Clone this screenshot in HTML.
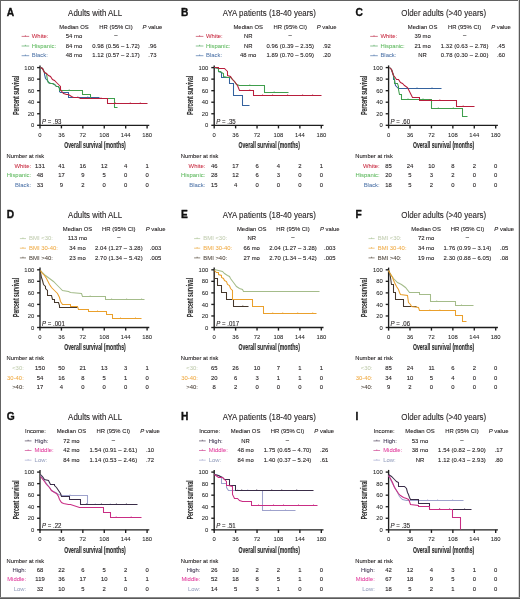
<!DOCTYPE html>
<html><head><meta charset="utf-8"><title>Survival curves</title>
<style>
html,body{margin:0;padding:0;background:#fff;}
body{width:520px;height:599px;overflow:hidden;position:relative;}
svg{display:block;font-family:"Liberation Sans", sans-serif;filter:blur(0.3px);}
text{stroke-linejoin:round;}
</style></head>
<body>
<svg width="520" height="599" viewBox="0 0 520 599">
<rect x="0" y="0" width="520" height="599" fill="#fff"/>
<g transform="translate(0,0)">
<text x="6.80" y="15.80" font-size="10.2" text-anchor="start" fill="#111" font-weight="bold" stroke="#111" stroke-width="0.35">A</text>
<text transform="translate(95.10 15.80) scale(0.9516 1)" font-size="8.302" text-anchor="middle" fill="#231f20" stroke="#231f20" stroke-width="0.1" >Adults with ALL</text>
<text transform="translate(74.00 28.60) scale(0.9516 1)" font-size="6.2" text-anchor="middle" fill="#231f20" stroke="#231f20" stroke-width="0.1" >Median OS</text>
<text transform="translate(116.00 28.60) scale(0.9516 1)" font-size="6.2" text-anchor="middle" fill="#231f20" stroke="#231f20" stroke-width="0.1" >HR (95% CI)</text>
<text transform="translate(152.40 28.60) scale(0.9516 1)" font-size="6.2" text-anchor="middle" fill="#231f20" stroke="#231f20" stroke-width="0.1" ><tspan font-style="italic">P</tspan> value</text>
<line x1="21.6" y1="36.40" x2="29.2" y2="36.40" stroke="#b81e3c" stroke-width="0.75" stroke-opacity="0.8"/>
<line x1="25.40" y1="35.20" x2="25.40" y2="36.40" stroke="#b81e3c" stroke-width="0.7" stroke-opacity="0.8"/>
<text transform="translate(31.80 38.10) scale(0.9516 1)" font-size="6.2" text-anchor="start" fill="#c8283f" stroke="#c8283f" stroke-width="0.05" >White:</text>
<text transform="translate(74.00 38.10) scale(0.9516 1)" font-size="6.2" text-anchor="middle" fill="#231f20" stroke="#231f20" stroke-width="0.1" >54 mo</text>
<text transform="translate(116.00 37.20) scale(0.9516 1)" font-size="6.2" text-anchor="middle" fill="#231f20" stroke="#231f20" stroke-width="0.1" >–</text>
<line x1="21.6" y1="46.00" x2="29.2" y2="46.00" stroke="#3f9e4c" stroke-width="0.75" stroke-opacity="0.8"/>
<line x1="25.40" y1="44.80" x2="25.40" y2="46.00" stroke="#3f9e4c" stroke-width="0.7" stroke-opacity="0.8"/>
<text transform="translate(31.80 47.70) scale(0.9516 1)" font-size="6.2" text-anchor="start" fill="#5cb85c" stroke="#5cb85c" stroke-width="0.05" >Hispanic:</text>
<text transform="translate(74.00 47.70) scale(0.9516 1)" font-size="6.2" text-anchor="middle" fill="#231f20" stroke="#231f20" stroke-width="0.1" >84 mo</text>
<text transform="translate(116.00 47.70) scale(0.9516 1)" font-size="6.2" text-anchor="middle" fill="#231f20" stroke="#231f20" stroke-width="0.1" textLength="50.02" lengthAdjust="spacing" >0.98 (0.56 – 1.72)</text>
<text transform="translate(152.40 47.70) scale(0.9516 1)" font-size="6.2" text-anchor="middle" fill="#231f20" stroke="#231f20" stroke-width="0.1" >.96</text>
<line x1="21.6" y1="55.70" x2="29.2" y2="55.70" stroke="#34629e" stroke-width="0.75" stroke-opacity="0.8"/>
<line x1="25.40" y1="54.50" x2="25.40" y2="55.70" stroke="#34629e" stroke-width="0.7" stroke-opacity="0.8"/>
<text transform="translate(31.80 57.40) scale(0.9516 1)" font-size="6.2" text-anchor="start" fill="#4f74a8" stroke="#4f74a8" stroke-width="0.05" >Black:</text>
<text transform="translate(74.00 57.40) scale(0.9516 1)" font-size="6.2" text-anchor="middle" fill="#231f20" stroke="#231f20" stroke-width="0.1" >48 mo</text>
<text transform="translate(116.00 57.40) scale(0.9516 1)" font-size="6.2" text-anchor="middle" fill="#231f20" stroke="#231f20" stroke-width="0.1" textLength="50.02" lengthAdjust="spacing" >1.12 (0.57 – 2.17)</text>
<text transform="translate(152.40 57.40) scale(0.9516 1)" font-size="6.2" text-anchor="middle" fill="#231f20" stroke="#231f20" stroke-width="0.1" >.73</text>
<g stroke="#1e1e1e" stroke-width="1.35" fill="none">
<line x1="40.0" y1="65.39999999999999" x2="40.0" y2="125.89999999999999"/>
<line x1="39.45" y1="125.3" x2="149.29999999999998" y2="125.3"/>
<line x1="37.1" y1="125.30" x2="40.0" y2="125.30"/>
<line x1="40.00" y1="125.3" x2="40.00" y2="128.4"/>
<line x1="37.1" y1="113.76" x2="40.0" y2="113.76"/>
<line x1="61.42" y1="125.3" x2="61.42" y2="128.4"/>
<line x1="37.1" y1="102.22" x2="40.0" y2="102.22"/>
<line x1="82.84" y1="125.3" x2="82.84" y2="128.4"/>
<line x1="37.1" y1="90.68" x2="40.0" y2="90.68"/>
<line x1="104.26" y1="125.3" x2="104.26" y2="128.4"/>
<line x1="37.1" y1="79.14" x2="40.0" y2="79.14"/>
<line x1="125.68" y1="125.3" x2="125.68" y2="128.4"/>
<line x1="37.1" y1="67.60" x2="40.0" y2="67.60"/>
<line x1="147.10" y1="125.3" x2="147.10" y2="128.4"/>
</g>
<text transform="translate(34.20 127.40) scale(0.9516 1)" font-size="6.2" text-anchor="end" fill="#262626" stroke="#262626" stroke-width="0.05" >0</text>
<text transform="translate(40.00 136.70) scale(0.9516 1)" font-size="6.2" text-anchor="middle" fill="#262626" stroke="#262626" stroke-width="0.05" >0</text>
<text transform="translate(34.20 115.86) scale(0.9516 1)" font-size="6.2" text-anchor="end" fill="#262626" stroke="#262626" stroke-width="0.05" >20</text>
<text transform="translate(61.42 136.70) scale(0.9516 1)" font-size="6.2" text-anchor="middle" fill="#262626" stroke="#262626" stroke-width="0.05" >36</text>
<text transform="translate(34.20 104.32) scale(0.9516 1)" font-size="6.2" text-anchor="end" fill="#262626" stroke="#262626" stroke-width="0.05" >40</text>
<text transform="translate(82.84 136.70) scale(0.9516 1)" font-size="6.2" text-anchor="middle" fill="#262626" stroke="#262626" stroke-width="0.05" >72</text>
<text transform="translate(34.20 92.78) scale(0.9516 1)" font-size="6.2" text-anchor="end" fill="#262626" stroke="#262626" stroke-width="0.05" >60</text>
<text transform="translate(104.26 136.70) scale(0.9516 1)" font-size="6.2" text-anchor="middle" fill="#262626" stroke="#262626" stroke-width="0.05" >108</text>
<text transform="translate(34.20 81.24) scale(0.9516 1)" font-size="6.2" text-anchor="end" fill="#262626" stroke="#262626" stroke-width="0.05" >80</text>
<text transform="translate(125.68 136.70) scale(0.9516 1)" font-size="6.2" text-anchor="middle" fill="#262626" stroke="#262626" stroke-width="0.05" >144</text>
<text transform="translate(34.20 69.70) scale(0.9516 1)" font-size="6.2" text-anchor="end" fill="#262626" stroke="#262626" stroke-width="0.05" >100</text>
<text transform="translate(147.10 136.70) scale(0.9516 1)" font-size="6.2" text-anchor="middle" fill="#262626" stroke="#262626" stroke-width="0.05" >180</text>
<text transform="translate(18.8,95.25) rotate(-90)" font-size="8.4" font-weight="bold" text-anchor="middle" fill="#2e2e2e" stroke="#2e2e2e" stroke-width="0.15" textLength="39" lengthAdjust="spacingAndGlyphs">Percent survival</text>
<text x="95" y="148.0" font-size="8.4" font-weight="bold" text-anchor="middle" fill="#2e2e2e" stroke="#2e2e2e" stroke-width="0.15" textLength="61.4" lengthAdjust="spacingAndGlyphs">Overall survival (months)</text>
<text transform="translate(42.00 123.80) scale(0.9516 1)" font-size="6.41" text-anchor="start" fill="#231f20" stroke="#231f20" stroke-width="0.1" ><tspan font-style="italic">P</tspan> = .93</text>
<text transform="translate(6.60 158.20) scale(0.9516 1)" font-size="6.095" text-anchor="start" fill="#231f20" stroke="#231f20" stroke-width="0.1" >Number at risk</text>
<text transform="translate(31.10 167.80) scale(0.9516 1)" font-size="6.2" text-anchor="end" fill="#c8283f" stroke="#c8283f" stroke-width="0.05" >White:</text>
<text transform="translate(40.00 167.80) scale(0.9516 1)" font-size="6.2" text-anchor="middle" fill="#231f20" stroke="#231f20" stroke-width="0.1" >131</text>
<text transform="translate(61.42 167.80) scale(0.9516 1)" font-size="6.2" text-anchor="middle" fill="#231f20" stroke="#231f20" stroke-width="0.1" >41</text>
<text transform="translate(82.84 167.80) scale(0.9516 1)" font-size="6.2" text-anchor="middle" fill="#231f20" stroke="#231f20" stroke-width="0.1" >16</text>
<text transform="translate(104.26 167.80) scale(0.9516 1)" font-size="6.2" text-anchor="middle" fill="#231f20" stroke="#231f20" stroke-width="0.1" >12</text>
<text transform="translate(125.68 167.80) scale(0.9516 1)" font-size="6.2" text-anchor="middle" fill="#231f20" stroke="#231f20" stroke-width="0.1" >4</text>
<text transform="translate(147.10 167.80) scale(0.9516 1)" font-size="6.2" text-anchor="middle" fill="#231f20" stroke="#231f20" stroke-width="0.1" >1</text>
<text transform="translate(31.10 177.40) scale(0.9516 1)" font-size="6.2" text-anchor="end" fill="#5cb85c" stroke="#5cb85c" stroke-width="0.05" >Hispanic:</text>
<text transform="translate(40.00 177.40) scale(0.9516 1)" font-size="6.2" text-anchor="middle" fill="#231f20" stroke="#231f20" stroke-width="0.1" >48</text>
<text transform="translate(61.42 177.40) scale(0.9516 1)" font-size="6.2" text-anchor="middle" fill="#231f20" stroke="#231f20" stroke-width="0.1" >17</text>
<text transform="translate(82.84 177.40) scale(0.9516 1)" font-size="6.2" text-anchor="middle" fill="#231f20" stroke="#231f20" stroke-width="0.1" >9</text>
<text transform="translate(104.26 177.40) scale(0.9516 1)" font-size="6.2" text-anchor="middle" fill="#231f20" stroke="#231f20" stroke-width="0.1" >5</text>
<text transform="translate(125.68 177.40) scale(0.9516 1)" font-size="6.2" text-anchor="middle" fill="#231f20" stroke="#231f20" stroke-width="0.1" >0</text>
<text transform="translate(147.10 177.40) scale(0.9516 1)" font-size="6.2" text-anchor="middle" fill="#231f20" stroke="#231f20" stroke-width="0.1" >0</text>
<text transform="translate(31.10 186.90) scale(0.9516 1)" font-size="6.2" text-anchor="end" fill="#4f74a8" stroke="#4f74a8" stroke-width="0.05" >Black:</text>
<text transform="translate(40.00 186.90) scale(0.9516 1)" font-size="6.2" text-anchor="middle" fill="#231f20" stroke="#231f20" stroke-width="0.1" >33</text>
<text transform="translate(61.42 186.90) scale(0.9516 1)" font-size="6.2" text-anchor="middle" fill="#231f20" stroke="#231f20" stroke-width="0.1" >9</text>
<text transform="translate(82.84 186.90) scale(0.9516 1)" font-size="6.2" text-anchor="middle" fill="#231f20" stroke="#231f20" stroke-width="0.1" >2</text>
<text transform="translate(104.26 186.90) scale(0.9516 1)" font-size="6.2" text-anchor="middle" fill="#231f20" stroke="#231f20" stroke-width="0.1" >0</text>
<text transform="translate(125.68 186.90) scale(0.9516 1)" font-size="6.2" text-anchor="middle" fill="#231f20" stroke="#231f20" stroke-width="0.1" >0</text>
<text transform="translate(147.10 186.90) scale(0.9516 1)" font-size="6.2" text-anchor="middle" fill="#231f20" stroke="#231f20" stroke-width="0.1" >0</text>
</g>
<polyline points="40.50,67.50 42.50,68.50 44.50,72.50 44.50,74.50 45.50,78.50 47.50,80.50 48.50,82.50 50.50,83.50 52.50,83.50 54.50,84.50 56.50,86.50 58.50,86.50 59.50,88.50 59.50,91.50 60.50,92.50 68.50,92.50 68.50,97.50 99.50,97.50" fill="none" stroke="#34629e" stroke-width="1.05" stroke-linejoin="miter"/>
<path d="M77.8,96.1v1.4M87.8,96.1v1.4" stroke="#34629e" stroke-width="0.7" fill="none" opacity="0.7"/>
<polyline points="40.50,67.50 42.50,68.50 44.50,72.50 46.50,73.50 47.50,80.50 48.50,82.50 50.50,83.50 52.50,83.50 54.50,84.50 56.50,86.50 58.50,86.50 59.50,88.50 59.50,90.50 82.50,90.50 82.50,94.50 90.50,94.50 90.50,98.50 114.50,98.50 114.50,107.50 117.50,107.50" fill="none" stroke="#3f9e4c" stroke-width="1.05" stroke-linejoin="miter"/>
<path d="M69.2,89.1v1.4M96.0,97.1v1.4" stroke="#3f9e4c" stroke-width="0.7" fill="none" opacity="0.7"/>
<polyline points="40.50,67.50 42.50,68.50 44.50,72.50 46.50,73.50 48.50,75.50 50.50,76.50 52.50,79.50 54.50,80.50 56.50,82.50 57.50,83.50 59.50,85.50 60.50,86.50 60.50,89.50 62.50,92.50 63.50,93.50 66.50,94.50 68.50,94.50 71.50,96.50 73.50,97.50 78.50,97.50 80.50,98.50 107.50,98.50 107.50,103.50 147.50,103.50" fill="none" stroke="#b81e3c" stroke-width="1.05" stroke-linejoin="miter"/>
<path d="M86.0,97.1v1.4M101.0,97.1v1.4M115.3,102.1v1.4M130.3,102.1v1.4M140.3,102.1v1.4" stroke="#b81e3c" stroke-width="0.7" fill="none" opacity="0.7"/>
<g transform="translate(174.2,0)">
<text x="6.80" y="15.80" font-size="10.2" text-anchor="start" fill="#111" font-weight="bold" stroke="#111" stroke-width="0.35">B</text>
<text transform="translate(95.10 15.80) scale(0.9516 1)" font-size="8.302" text-anchor="middle" fill="#231f20" stroke="#231f20" stroke-width="0.1" >AYA patients (18-40 years)</text>
<text transform="translate(74.00 28.60) scale(0.9516 1)" font-size="6.2" text-anchor="middle" fill="#231f20" stroke="#231f20" stroke-width="0.1" >Median OS</text>
<text transform="translate(116.00 28.60) scale(0.9516 1)" font-size="6.2" text-anchor="middle" fill="#231f20" stroke="#231f20" stroke-width="0.1" >HR (95% CI)</text>
<text transform="translate(152.40 28.60) scale(0.9516 1)" font-size="6.2" text-anchor="middle" fill="#231f20" stroke="#231f20" stroke-width="0.1" ><tspan font-style="italic">P</tspan> value</text>
<line x1="21.6" y1="36.40" x2="29.2" y2="36.40" stroke="#b81e3c" stroke-width="0.75" stroke-opacity="0.8"/>
<line x1="25.40" y1="35.20" x2="25.40" y2="36.40" stroke="#b81e3c" stroke-width="0.7" stroke-opacity="0.8"/>
<text transform="translate(31.80 38.10) scale(0.9516 1)" font-size="6.2" text-anchor="start" fill="#c8283f" stroke="#c8283f" stroke-width="0.05" >White:</text>
<text transform="translate(74.00 38.10) scale(0.9516 1)" font-size="6.2" text-anchor="middle" fill="#231f20" stroke="#231f20" stroke-width="0.1" >NR</text>
<text transform="translate(116.00 37.20) scale(0.9516 1)" font-size="6.2" text-anchor="middle" fill="#231f20" stroke="#231f20" stroke-width="0.1" >–</text>
<line x1="21.6" y1="46.00" x2="29.2" y2="46.00" stroke="#3f9e4c" stroke-width="0.75" stroke-opacity="0.8"/>
<line x1="25.40" y1="44.80" x2="25.40" y2="46.00" stroke="#3f9e4c" stroke-width="0.7" stroke-opacity="0.8"/>
<text transform="translate(31.80 47.70) scale(0.9516 1)" font-size="6.2" text-anchor="start" fill="#5cb85c" stroke="#5cb85c" stroke-width="0.05" >Hispanic:</text>
<text transform="translate(74.00 47.70) scale(0.9516 1)" font-size="6.2" text-anchor="middle" fill="#231f20" stroke="#231f20" stroke-width="0.1" >NR</text>
<text transform="translate(116.00 47.70) scale(0.9516 1)" font-size="6.2" text-anchor="middle" fill="#231f20" stroke="#231f20" stroke-width="0.1" textLength="50.02" lengthAdjust="spacing" >0.96 (0.39 – 2.35)</text>
<text transform="translate(152.40 47.70) scale(0.9516 1)" font-size="6.2" text-anchor="middle" fill="#231f20" stroke="#231f20" stroke-width="0.1" >.92</text>
<line x1="21.6" y1="55.70" x2="29.2" y2="55.70" stroke="#34629e" stroke-width="0.75" stroke-opacity="0.8"/>
<line x1="25.40" y1="54.50" x2="25.40" y2="55.70" stroke="#34629e" stroke-width="0.7" stroke-opacity="0.8"/>
<text transform="translate(31.80 57.40) scale(0.9516 1)" font-size="6.2" text-anchor="start" fill="#4f74a8" stroke="#4f74a8" stroke-width="0.05" >Black:</text>
<text transform="translate(74.00 57.40) scale(0.9516 1)" font-size="6.2" text-anchor="middle" fill="#231f20" stroke="#231f20" stroke-width="0.1" >48 mo</text>
<text transform="translate(116.00 57.40) scale(0.9516 1)" font-size="6.2" text-anchor="middle" fill="#231f20" stroke="#231f20" stroke-width="0.1" textLength="50.02" lengthAdjust="spacing" >1.89 (0.70 – 5.09)</text>
<text transform="translate(152.40 57.40) scale(0.9516 1)" font-size="6.2" text-anchor="middle" fill="#231f20" stroke="#231f20" stroke-width="0.1" >.20</text>
<g stroke="#1e1e1e" stroke-width="1.35" fill="none">
<line x1="40.0" y1="65.39999999999999" x2="40.0" y2="125.89999999999999"/>
<line x1="39.45" y1="125.3" x2="149.29999999999998" y2="125.3"/>
<line x1="37.1" y1="125.30" x2="40.0" y2="125.30"/>
<line x1="40.00" y1="125.3" x2="40.00" y2="128.4"/>
<line x1="37.1" y1="113.76" x2="40.0" y2="113.76"/>
<line x1="61.42" y1="125.3" x2="61.42" y2="128.4"/>
<line x1="37.1" y1="102.22" x2="40.0" y2="102.22"/>
<line x1="82.84" y1="125.3" x2="82.84" y2="128.4"/>
<line x1="37.1" y1="90.68" x2="40.0" y2="90.68"/>
<line x1="104.26" y1="125.3" x2="104.26" y2="128.4"/>
<line x1="37.1" y1="79.14" x2="40.0" y2="79.14"/>
<line x1="125.68" y1="125.3" x2="125.68" y2="128.4"/>
<line x1="37.1" y1="67.60" x2="40.0" y2="67.60"/>
<line x1="147.10" y1="125.3" x2="147.10" y2="128.4"/>
</g>
<text transform="translate(34.20 127.40) scale(0.9516 1)" font-size="6.2" text-anchor="end" fill="#262626" stroke="#262626" stroke-width="0.05" >0</text>
<text transform="translate(40.00 136.70) scale(0.9516 1)" font-size="6.2" text-anchor="middle" fill="#262626" stroke="#262626" stroke-width="0.05" >0</text>
<text transform="translate(34.20 115.86) scale(0.9516 1)" font-size="6.2" text-anchor="end" fill="#262626" stroke="#262626" stroke-width="0.05" >20</text>
<text transform="translate(61.42 136.70) scale(0.9516 1)" font-size="6.2" text-anchor="middle" fill="#262626" stroke="#262626" stroke-width="0.05" >36</text>
<text transform="translate(34.20 104.32) scale(0.9516 1)" font-size="6.2" text-anchor="end" fill="#262626" stroke="#262626" stroke-width="0.05" >40</text>
<text transform="translate(82.84 136.70) scale(0.9516 1)" font-size="6.2" text-anchor="middle" fill="#262626" stroke="#262626" stroke-width="0.05" >72</text>
<text transform="translate(34.20 92.78) scale(0.9516 1)" font-size="6.2" text-anchor="end" fill="#262626" stroke="#262626" stroke-width="0.05" >60</text>
<text transform="translate(104.26 136.70) scale(0.9516 1)" font-size="6.2" text-anchor="middle" fill="#262626" stroke="#262626" stroke-width="0.05" >108</text>
<text transform="translate(34.20 81.24) scale(0.9516 1)" font-size="6.2" text-anchor="end" fill="#262626" stroke="#262626" stroke-width="0.05" >80</text>
<text transform="translate(125.68 136.70) scale(0.9516 1)" font-size="6.2" text-anchor="middle" fill="#262626" stroke="#262626" stroke-width="0.05" >144</text>
<text transform="translate(34.20 69.70) scale(0.9516 1)" font-size="6.2" text-anchor="end" fill="#262626" stroke="#262626" stroke-width="0.05" >100</text>
<text transform="translate(147.10 136.70) scale(0.9516 1)" font-size="6.2" text-anchor="middle" fill="#262626" stroke="#262626" stroke-width="0.05" >180</text>
<text transform="translate(18.8,95.25) rotate(-90)" font-size="8.4" font-weight="bold" text-anchor="middle" fill="#2e2e2e" stroke="#2e2e2e" stroke-width="0.15" textLength="39" lengthAdjust="spacingAndGlyphs">Percent survival</text>
<text x="95" y="148.0" font-size="8.4" font-weight="bold" text-anchor="middle" fill="#2e2e2e" stroke="#2e2e2e" stroke-width="0.15" textLength="61.4" lengthAdjust="spacingAndGlyphs">Overall survival (months)</text>
<text transform="translate(42.00 123.80) scale(0.9516 1)" font-size="6.41" text-anchor="start" fill="#231f20" stroke="#231f20" stroke-width="0.1" ><tspan font-style="italic">P</tspan> = .35</text>
<text transform="translate(6.60 158.20) scale(0.9516 1)" font-size="6.095" text-anchor="start" fill="#231f20" stroke="#231f20" stroke-width="0.1" >Number at risk</text>
<text transform="translate(31.10 167.80) scale(0.9516 1)" font-size="6.2" text-anchor="end" fill="#c8283f" stroke="#c8283f" stroke-width="0.05" >White:</text>
<text transform="translate(40.00 167.80) scale(0.9516 1)" font-size="6.2" text-anchor="middle" fill="#231f20" stroke="#231f20" stroke-width="0.1" >46</text>
<text transform="translate(61.42 167.80) scale(0.9516 1)" font-size="6.2" text-anchor="middle" fill="#231f20" stroke="#231f20" stroke-width="0.1" >17</text>
<text transform="translate(82.84 167.80) scale(0.9516 1)" font-size="6.2" text-anchor="middle" fill="#231f20" stroke="#231f20" stroke-width="0.1" >6</text>
<text transform="translate(104.26 167.80) scale(0.9516 1)" font-size="6.2" text-anchor="middle" fill="#231f20" stroke="#231f20" stroke-width="0.1" >4</text>
<text transform="translate(125.68 167.80) scale(0.9516 1)" font-size="6.2" text-anchor="middle" fill="#231f20" stroke="#231f20" stroke-width="0.1" >2</text>
<text transform="translate(147.10 167.80) scale(0.9516 1)" font-size="6.2" text-anchor="middle" fill="#231f20" stroke="#231f20" stroke-width="0.1" >1</text>
<text transform="translate(31.10 177.40) scale(0.9516 1)" font-size="6.2" text-anchor="end" fill="#5cb85c" stroke="#5cb85c" stroke-width="0.05" >Hispanic:</text>
<text transform="translate(40.00 177.40) scale(0.9516 1)" font-size="6.2" text-anchor="middle" fill="#231f20" stroke="#231f20" stroke-width="0.1" >28</text>
<text transform="translate(61.42 177.40) scale(0.9516 1)" font-size="6.2" text-anchor="middle" fill="#231f20" stroke="#231f20" stroke-width="0.1" >12</text>
<text transform="translate(82.84 177.40) scale(0.9516 1)" font-size="6.2" text-anchor="middle" fill="#231f20" stroke="#231f20" stroke-width="0.1" >6</text>
<text transform="translate(104.26 177.40) scale(0.9516 1)" font-size="6.2" text-anchor="middle" fill="#231f20" stroke="#231f20" stroke-width="0.1" >3</text>
<text transform="translate(125.68 177.40) scale(0.9516 1)" font-size="6.2" text-anchor="middle" fill="#231f20" stroke="#231f20" stroke-width="0.1" >0</text>
<text transform="translate(147.10 177.40) scale(0.9516 1)" font-size="6.2" text-anchor="middle" fill="#231f20" stroke="#231f20" stroke-width="0.1" >0</text>
<text transform="translate(31.10 186.90) scale(0.9516 1)" font-size="6.2" text-anchor="end" fill="#4f74a8" stroke="#4f74a8" stroke-width="0.05" >Black:</text>
<text transform="translate(40.00 186.90) scale(0.9516 1)" font-size="6.2" text-anchor="middle" fill="#231f20" stroke="#231f20" stroke-width="0.1" >15</text>
<text transform="translate(61.42 186.90) scale(0.9516 1)" font-size="6.2" text-anchor="middle" fill="#231f20" stroke="#231f20" stroke-width="0.1" >4</text>
<text transform="translate(82.84 186.90) scale(0.9516 1)" font-size="6.2" text-anchor="middle" fill="#231f20" stroke="#231f20" stroke-width="0.1" >0</text>
<text transform="translate(104.26 186.90) scale(0.9516 1)" font-size="6.2" text-anchor="middle" fill="#231f20" stroke="#231f20" stroke-width="0.1" >0</text>
<text transform="translate(125.68 186.90) scale(0.9516 1)" font-size="6.2" text-anchor="middle" fill="#231f20" stroke="#231f20" stroke-width="0.1" >0</text>
<text transform="translate(147.10 186.90) scale(0.9516 1)" font-size="6.2" text-anchor="middle" fill="#231f20" stroke="#231f20" stroke-width="0.1" >0</text>
</g>
<polyline points="214.50,67.50 218.50,68.50 218.50,71.50 221.50,72.50 221.50,77.50 229.50,77.50 229.50,83.50 233.50,83.50 233.50,95.50 242.50,95.50 242.50,105.50 249.50,105.50" fill="none" stroke="#34629e" stroke-width="1.05" stroke-linejoin="miter"/>
<polyline points="214.50,67.50 218.50,68.50 218.50,71.50 220.50,71.50 221.50,72.50 223.50,73.50 223.50,76.50 227.50,77.50 230.50,77.50 232.50,79.50 234.50,81.50 236.50,84.50 239.50,85.50 264.50,85.50 264.50,92.50 288.50,92.50" fill="none" stroke="#3f9e4c" stroke-width="1.05" stroke-linejoin="miter"/>
<path d="M249.8,84.1v1.4M274.2,91.1v1.4" stroke="#3f9e4c" stroke-width="0.7" fill="none" opacity="0.7"/>
<polyline points="214.50,67.50 218.50,67.50 218.50,68.50 224.50,68.50 226.50,70.50 227.50,71.50 227.50,75.50 230.50,76.50 232.50,79.50 234.50,81.50 237.50,85.50 239.50,90.50 253.50,90.50 253.50,95.50 321.50,95.50" fill="none" stroke="#b81e3c" stroke-width="1.05" stroke-linejoin="miter"/>
<path d="M249.8,89.1v1.4M262.6,94.1v1.4M272.6,94.1v1.4M287.6,94.1v1.4M302.6,94.1v1.4M312.6,94.1v1.4" stroke="#b81e3c" stroke-width="0.7" fill="none" opacity="0.7"/>
<g transform="translate(348.6,0)">
<text x="6.80" y="15.80" font-size="10.2" text-anchor="start" fill="#111" font-weight="bold" stroke="#111" stroke-width="0.35">C</text>
<text transform="translate(95.10 15.80) scale(0.9516 1)" font-size="8.302" text-anchor="middle" fill="#231f20" stroke="#231f20" stroke-width="0.1" >Older adults (&gt;40 years)</text>
<text transform="translate(74.00 28.60) scale(0.9516 1)" font-size="6.2" text-anchor="middle" fill="#231f20" stroke="#231f20" stroke-width="0.1" >Median OS</text>
<text transform="translate(116.00 28.60) scale(0.9516 1)" font-size="6.2" text-anchor="middle" fill="#231f20" stroke="#231f20" stroke-width="0.1" >HR (95% CI)</text>
<text transform="translate(152.40 28.60) scale(0.9516 1)" font-size="6.2" text-anchor="middle" fill="#231f20" stroke="#231f20" stroke-width="0.1" ><tspan font-style="italic">P</tspan> value</text>
<line x1="21.6" y1="36.40" x2="29.2" y2="36.40" stroke="#b81e3c" stroke-width="0.75" stroke-opacity="0.8"/>
<line x1="25.40" y1="35.20" x2="25.40" y2="36.40" stroke="#b81e3c" stroke-width="0.7" stroke-opacity="0.8"/>
<text transform="translate(31.80 38.10) scale(0.9516 1)" font-size="6.2" text-anchor="start" fill="#c8283f" stroke="#c8283f" stroke-width="0.05" >White:</text>
<text transform="translate(74.00 38.10) scale(0.9516 1)" font-size="6.2" text-anchor="middle" fill="#231f20" stroke="#231f20" stroke-width="0.1" >39 mo</text>
<text transform="translate(116.00 37.20) scale(0.9516 1)" font-size="6.2" text-anchor="middle" fill="#231f20" stroke="#231f20" stroke-width="0.1" >–</text>
<line x1="21.6" y1="46.00" x2="29.2" y2="46.00" stroke="#3f9e4c" stroke-width="0.75" stroke-opacity="0.8"/>
<line x1="25.40" y1="44.80" x2="25.40" y2="46.00" stroke="#3f9e4c" stroke-width="0.7" stroke-opacity="0.8"/>
<text transform="translate(31.80 47.70) scale(0.9516 1)" font-size="6.2" text-anchor="start" fill="#5cb85c" stroke="#5cb85c" stroke-width="0.05" >Hispanic:</text>
<text transform="translate(74.00 47.70) scale(0.9516 1)" font-size="6.2" text-anchor="middle" fill="#231f20" stroke="#231f20" stroke-width="0.1" >21 mo</text>
<text transform="translate(116.00 47.70) scale(0.9516 1)" font-size="6.2" text-anchor="middle" fill="#231f20" stroke="#231f20" stroke-width="0.1" textLength="50.02" lengthAdjust="spacing" >1.32 (0.63 – 2.78)</text>
<text transform="translate(152.40 47.70) scale(0.9516 1)" font-size="6.2" text-anchor="middle" fill="#231f20" stroke="#231f20" stroke-width="0.1" >.45</text>
<line x1="21.6" y1="55.70" x2="29.2" y2="55.70" stroke="#34629e" stroke-width="0.75" stroke-opacity="0.8"/>
<line x1="25.40" y1="54.50" x2="25.40" y2="55.70" stroke="#34629e" stroke-width="0.7" stroke-opacity="0.8"/>
<text transform="translate(31.80 57.40) scale(0.9516 1)" font-size="6.2" text-anchor="start" fill="#4f74a8" stroke="#4f74a8" stroke-width="0.05" >Black:</text>
<text transform="translate(74.00 57.40) scale(0.9516 1)" font-size="6.2" text-anchor="middle" fill="#231f20" stroke="#231f20" stroke-width="0.1" >NR</text>
<text transform="translate(116.00 57.40) scale(0.9516 1)" font-size="6.2" text-anchor="middle" fill="#231f20" stroke="#231f20" stroke-width="0.1" textLength="50.02" lengthAdjust="spacing" >0.78 (0.30 – 2.00)</text>
<text transform="translate(152.40 57.40) scale(0.9516 1)" font-size="6.2" text-anchor="middle" fill="#231f20" stroke="#231f20" stroke-width="0.1" >.60</text>
<g stroke="#1e1e1e" stroke-width="1.35" fill="none">
<line x1="40.0" y1="65.39999999999999" x2="40.0" y2="125.89999999999999"/>
<line x1="39.45" y1="125.3" x2="149.29999999999998" y2="125.3"/>
<line x1="37.1" y1="125.30" x2="40.0" y2="125.30"/>
<line x1="40.00" y1="125.3" x2="40.00" y2="128.4"/>
<line x1="37.1" y1="113.76" x2="40.0" y2="113.76"/>
<line x1="61.42" y1="125.3" x2="61.42" y2="128.4"/>
<line x1="37.1" y1="102.22" x2="40.0" y2="102.22"/>
<line x1="82.84" y1="125.3" x2="82.84" y2="128.4"/>
<line x1="37.1" y1="90.68" x2="40.0" y2="90.68"/>
<line x1="104.26" y1="125.3" x2="104.26" y2="128.4"/>
<line x1="37.1" y1="79.14" x2="40.0" y2="79.14"/>
<line x1="125.68" y1="125.3" x2="125.68" y2="128.4"/>
<line x1="37.1" y1="67.60" x2="40.0" y2="67.60"/>
<line x1="147.10" y1="125.3" x2="147.10" y2="128.4"/>
</g>
<text transform="translate(34.20 127.40) scale(0.9516 1)" font-size="6.2" text-anchor="end" fill="#262626" stroke="#262626" stroke-width="0.05" >0</text>
<text transform="translate(40.00 136.70) scale(0.9516 1)" font-size="6.2" text-anchor="middle" fill="#262626" stroke="#262626" stroke-width="0.05" >0</text>
<text transform="translate(34.20 115.86) scale(0.9516 1)" font-size="6.2" text-anchor="end" fill="#262626" stroke="#262626" stroke-width="0.05" >20</text>
<text transform="translate(61.42 136.70) scale(0.9516 1)" font-size="6.2" text-anchor="middle" fill="#262626" stroke="#262626" stroke-width="0.05" >36</text>
<text transform="translate(34.20 104.32) scale(0.9516 1)" font-size="6.2" text-anchor="end" fill="#262626" stroke="#262626" stroke-width="0.05" >40</text>
<text transform="translate(82.84 136.70) scale(0.9516 1)" font-size="6.2" text-anchor="middle" fill="#262626" stroke="#262626" stroke-width="0.05" >72</text>
<text transform="translate(34.20 92.78) scale(0.9516 1)" font-size="6.2" text-anchor="end" fill="#262626" stroke="#262626" stroke-width="0.05" >60</text>
<text transform="translate(104.26 136.70) scale(0.9516 1)" font-size="6.2" text-anchor="middle" fill="#262626" stroke="#262626" stroke-width="0.05" >108</text>
<text transform="translate(34.20 81.24) scale(0.9516 1)" font-size="6.2" text-anchor="end" fill="#262626" stroke="#262626" stroke-width="0.05" >80</text>
<text transform="translate(125.68 136.70) scale(0.9516 1)" font-size="6.2" text-anchor="middle" fill="#262626" stroke="#262626" stroke-width="0.05" >144</text>
<text transform="translate(34.20 69.70) scale(0.9516 1)" font-size="6.2" text-anchor="end" fill="#262626" stroke="#262626" stroke-width="0.05" >100</text>
<text transform="translate(147.10 136.70) scale(0.9516 1)" font-size="6.2" text-anchor="middle" fill="#262626" stroke="#262626" stroke-width="0.05" >180</text>
<text transform="translate(18.8,95.25) rotate(-90)" font-size="8.4" font-weight="bold" text-anchor="middle" fill="#2e2e2e" stroke="#2e2e2e" stroke-width="0.15" textLength="39" lengthAdjust="spacingAndGlyphs">Percent survival</text>
<text x="95" y="148.0" font-size="8.4" font-weight="bold" text-anchor="middle" fill="#2e2e2e" stroke="#2e2e2e" stroke-width="0.15" textLength="61.4" lengthAdjust="spacingAndGlyphs">Overall survival (months)</text>
<text transform="translate(42.00 123.80) scale(0.9516 1)" font-size="6.41" text-anchor="start" fill="#231f20" stroke="#231f20" stroke-width="0.1" ><tspan font-style="italic">P</tspan> = .60</text>
<text transform="translate(6.60 158.20) scale(0.9516 1)" font-size="6.095" text-anchor="start" fill="#231f20" stroke="#231f20" stroke-width="0.1" >Number at risk</text>
<text transform="translate(31.10 167.80) scale(0.9516 1)" font-size="6.2" text-anchor="end" fill="#c8283f" stroke="#c8283f" stroke-width="0.05" >White:</text>
<text transform="translate(40.00 167.80) scale(0.9516 1)" font-size="6.2" text-anchor="middle" fill="#231f20" stroke="#231f20" stroke-width="0.1" >85</text>
<text transform="translate(61.42 167.80) scale(0.9516 1)" font-size="6.2" text-anchor="middle" fill="#231f20" stroke="#231f20" stroke-width="0.1" >24</text>
<text transform="translate(82.84 167.80) scale(0.9516 1)" font-size="6.2" text-anchor="middle" fill="#231f20" stroke="#231f20" stroke-width="0.1" >10</text>
<text transform="translate(104.26 167.80) scale(0.9516 1)" font-size="6.2" text-anchor="middle" fill="#231f20" stroke="#231f20" stroke-width="0.1" >8</text>
<text transform="translate(125.68 167.80) scale(0.9516 1)" font-size="6.2" text-anchor="middle" fill="#231f20" stroke="#231f20" stroke-width="0.1" >2</text>
<text transform="translate(147.10 167.80) scale(0.9516 1)" font-size="6.2" text-anchor="middle" fill="#231f20" stroke="#231f20" stroke-width="0.1" >0</text>
<text transform="translate(31.10 177.40) scale(0.9516 1)" font-size="6.2" text-anchor="end" fill="#5cb85c" stroke="#5cb85c" stroke-width="0.05" >Hispanic:</text>
<text transform="translate(40.00 177.40) scale(0.9516 1)" font-size="6.2" text-anchor="middle" fill="#231f20" stroke="#231f20" stroke-width="0.1" >20</text>
<text transform="translate(61.42 177.40) scale(0.9516 1)" font-size="6.2" text-anchor="middle" fill="#231f20" stroke="#231f20" stroke-width="0.1" >5</text>
<text transform="translate(82.84 177.40) scale(0.9516 1)" font-size="6.2" text-anchor="middle" fill="#231f20" stroke="#231f20" stroke-width="0.1" >3</text>
<text transform="translate(104.26 177.40) scale(0.9516 1)" font-size="6.2" text-anchor="middle" fill="#231f20" stroke="#231f20" stroke-width="0.1" >2</text>
<text transform="translate(125.68 177.40) scale(0.9516 1)" font-size="6.2" text-anchor="middle" fill="#231f20" stroke="#231f20" stroke-width="0.1" >0</text>
<text transform="translate(147.10 177.40) scale(0.9516 1)" font-size="6.2" text-anchor="middle" fill="#231f20" stroke="#231f20" stroke-width="0.1" >0</text>
<text transform="translate(31.10 186.90) scale(0.9516 1)" font-size="6.2" text-anchor="end" fill="#4f74a8" stroke="#4f74a8" stroke-width="0.05" >Black:</text>
<text transform="translate(40.00 186.90) scale(0.9516 1)" font-size="6.2" text-anchor="middle" fill="#231f20" stroke="#231f20" stroke-width="0.1" >18</text>
<text transform="translate(61.42 186.90) scale(0.9516 1)" font-size="6.2" text-anchor="middle" fill="#231f20" stroke="#231f20" stroke-width="0.1" >5</text>
<text transform="translate(82.84 186.90) scale(0.9516 1)" font-size="6.2" text-anchor="middle" fill="#231f20" stroke="#231f20" stroke-width="0.1" >2</text>
<text transform="translate(104.26 186.90) scale(0.9516 1)" font-size="6.2" text-anchor="middle" fill="#231f20" stroke="#231f20" stroke-width="0.1" >0</text>
<text transform="translate(125.68 186.90) scale(0.9516 1)" font-size="6.2" text-anchor="middle" fill="#231f20" stroke="#231f20" stroke-width="0.1" >0</text>
<text transform="translate(147.10 186.90) scale(0.9516 1)" font-size="6.2" text-anchor="middle" fill="#231f20" stroke="#231f20" stroke-width="0.1" >0</text>
</g>
<polyline points="389.50,67.50 391.50,69.50 392.50,72.50 393.50,75.50 393.50,79.50 394.50,79.50 395.50,85.50 398.50,88.50 441.50,88.50" fill="none" stroke="#34629e" stroke-width="1.05" stroke-linejoin="miter"/>
<path d="M407.0,87.1v1.4M417.0,87.1v1.4M432.0,87.1v1.4" stroke="#34629e" stroke-width="0.7" fill="none" opacity="0.7"/>
<polyline points="389.50,67.50 391.50,69.50 392.50,72.50 393.50,75.50 394.50,79.50 394.50,83.50 397.50,83.50 398.50,86.50 398.50,89.50 399.50,94.50 401.50,94.50 401.50,99.50 431.50,99.50 431.50,108.50 462.50,108.50 462.50,116.50 467.50,116.50" fill="none" stroke="#3f9e4c" stroke-width="1.05" stroke-linejoin="miter"/>
<path d="M408.0,98.1v1.4M423.0,98.1v1.4M438.3,107.1v1.4M453.3,107.1v1.4" stroke="#3f9e4c" stroke-width="0.7" fill="none" opacity="0.7"/>
<polyline points="389.50,67.50 391.50,69.50 392.50,72.50 393.50,75.50 394.50,76.50 396.50,79.50 398.50,79.50 400.50,82.50 402.50,83.50 404.50,85.50 407.50,87.50 408.50,89.50 410.50,93.50 412.50,97.50 419.50,97.50 419.50,100.50 456.50,100.50 456.50,106.50 474.50,106.50" fill="none" stroke="#b81e3c" stroke-width="1.05" stroke-linejoin="miter"/>
<path d="M429.8,99.1v1.4M439.8,99.1v1.4M463.2,105.1v1.4" stroke="#b81e3c" stroke-width="0.7" fill="none" opacity="0.7"/>
<g transform="translate(0,202.2)">
<text x="6.80" y="15.80" font-size="10.2" text-anchor="start" fill="#111" font-weight="bold" stroke="#111" stroke-width="0.35">D</text>
<text transform="translate(95.10 15.80) scale(0.9516 1)" font-size="8.302" text-anchor="middle" fill="#231f20" stroke="#231f20" stroke-width="0.1" >Adults with ALL</text>
<text transform="translate(77.50 28.60) scale(0.9516 1)" font-size="6.2" text-anchor="middle" fill="#231f20" stroke="#231f20" stroke-width="0.1" >Median OS</text>
<text transform="translate(118.80 28.60) scale(0.9516 1)" font-size="6.2" text-anchor="middle" fill="#231f20" stroke="#231f20" stroke-width="0.1" >HR (95% CI)</text>
<text transform="translate(155.60 28.60) scale(0.9516 1)" font-size="6.2" text-anchor="middle" fill="#231f20" stroke="#231f20" stroke-width="0.1" ><tspan font-style="italic">P</tspan> value</text>
<line x1="19.9" y1="36.40" x2="26.0" y2="36.40" stroke="#a4bc8a" stroke-width="0.75" stroke-opacity="0.8"/>
<line x1="22.95" y1="35.20" x2="22.95" y2="36.40" stroke="#a4bc8a" stroke-width="0.7" stroke-opacity="0.8"/>
<text transform="translate(29.10 38.10) scale(0.9516 1)" font-size="6.2" text-anchor="start" fill="#c2cdb0" stroke="#c2cdb0" stroke-width="0.05" >BMI &lt;30:</text>
<text transform="translate(77.50 38.10) scale(0.9516 1)" font-size="6.2" text-anchor="middle" fill="#231f20" stroke="#231f20" stroke-width="0.1" >113 mo</text>
<text transform="translate(118.80 37.20) scale(0.9516 1)" font-size="6.2" text-anchor="middle" fill="#231f20" stroke="#231f20" stroke-width="0.1" >–</text>
<line x1="19.9" y1="46.00" x2="26.0" y2="46.00" stroke="#eaa02c" stroke-width="0.75" stroke-opacity="0.8"/>
<line x1="22.95" y1="44.80" x2="22.95" y2="46.00" stroke="#eaa02c" stroke-width="0.7" stroke-opacity="0.8"/>
<text transform="translate(29.10 47.70) scale(0.9516 1)" font-size="6.2" text-anchor="start" fill="#f0ac48" stroke="#f0ac48" stroke-width="0.05" >BMI 30-40:</text>
<text transform="translate(77.50 47.70) scale(0.9516 1)" font-size="6.2" text-anchor="middle" fill="#231f20" stroke="#231f20" stroke-width="0.1" >34 mo</text>
<text transform="translate(118.80 47.70) scale(0.9516 1)" font-size="6.2" text-anchor="middle" fill="#231f20" stroke="#231f20" stroke-width="0.1" textLength="50.02" lengthAdjust="spacing" >2.04 (1.27 – 3.28)</text>
<text transform="translate(155.60 47.70) scale(0.9516 1)" font-size="6.2" text-anchor="middle" fill="#231f20" stroke="#231f20" stroke-width="0.1" >.003</text>
<line x1="19.9" y1="55.70" x2="26.0" y2="55.70" stroke="#45372a" stroke-width="0.75" stroke-opacity="0.8"/>
<line x1="22.95" y1="54.50" x2="22.95" y2="55.70" stroke="#45372a" stroke-width="0.7" stroke-opacity="0.8"/>
<text transform="translate(29.10 57.40) scale(0.9516 1)" font-size="6.2" text-anchor="start" fill="#4a4038" stroke="#4a4038" stroke-width="0.05" >BMI &gt;40:</text>
<text transform="translate(77.50 57.40) scale(0.9516 1)" font-size="6.2" text-anchor="middle" fill="#231f20" stroke="#231f20" stroke-width="0.1" >23 mo</text>
<text transform="translate(118.80 57.40) scale(0.9516 1)" font-size="6.2" text-anchor="middle" fill="#231f20" stroke="#231f20" stroke-width="0.1" textLength="50.02" lengthAdjust="spacing" >2.70 (1.34 – 5.42)</text>
<text transform="translate(155.60 57.40) scale(0.9516 1)" font-size="6.2" text-anchor="middle" fill="#231f20" stroke="#231f20" stroke-width="0.1" >.005</text>
<g stroke="#1e1e1e" stroke-width="1.35" fill="none">
<line x1="40.0" y1="65.39999999999999" x2="40.0" y2="125.89999999999999"/>
<line x1="39.45" y1="125.3" x2="149.29999999999998" y2="125.3"/>
<line x1="37.1" y1="125.30" x2="40.0" y2="125.30"/>
<line x1="40.00" y1="125.3" x2="40.00" y2="128.4"/>
<line x1="37.1" y1="113.76" x2="40.0" y2="113.76"/>
<line x1="61.42" y1="125.3" x2="61.42" y2="128.4"/>
<line x1="37.1" y1="102.22" x2="40.0" y2="102.22"/>
<line x1="82.84" y1="125.3" x2="82.84" y2="128.4"/>
<line x1="37.1" y1="90.68" x2="40.0" y2="90.68"/>
<line x1="104.26" y1="125.3" x2="104.26" y2="128.4"/>
<line x1="37.1" y1="79.14" x2="40.0" y2="79.14"/>
<line x1="125.68" y1="125.3" x2="125.68" y2="128.4"/>
<line x1="37.1" y1="67.60" x2="40.0" y2="67.60"/>
<line x1="147.10" y1="125.3" x2="147.10" y2="128.4"/>
</g>
<text transform="translate(34.20 127.40) scale(0.9516 1)" font-size="6.2" text-anchor="end" fill="#262626" stroke="#262626" stroke-width="0.05" >0</text>
<text transform="translate(40.00 136.70) scale(0.9516 1)" font-size="6.2" text-anchor="middle" fill="#262626" stroke="#262626" stroke-width="0.05" >0</text>
<text transform="translate(34.20 115.86) scale(0.9516 1)" font-size="6.2" text-anchor="end" fill="#262626" stroke="#262626" stroke-width="0.05" >20</text>
<text transform="translate(61.42 136.70) scale(0.9516 1)" font-size="6.2" text-anchor="middle" fill="#262626" stroke="#262626" stroke-width="0.05" >36</text>
<text transform="translate(34.20 104.32) scale(0.9516 1)" font-size="6.2" text-anchor="end" fill="#262626" stroke="#262626" stroke-width="0.05" >40</text>
<text transform="translate(82.84 136.70) scale(0.9516 1)" font-size="6.2" text-anchor="middle" fill="#262626" stroke="#262626" stroke-width="0.05" >72</text>
<text transform="translate(34.20 92.78) scale(0.9516 1)" font-size="6.2" text-anchor="end" fill="#262626" stroke="#262626" stroke-width="0.05" >60</text>
<text transform="translate(104.26 136.70) scale(0.9516 1)" font-size="6.2" text-anchor="middle" fill="#262626" stroke="#262626" stroke-width="0.05" >108</text>
<text transform="translate(34.20 81.24) scale(0.9516 1)" font-size="6.2" text-anchor="end" fill="#262626" stroke="#262626" stroke-width="0.05" >80</text>
<text transform="translate(125.68 136.70) scale(0.9516 1)" font-size="6.2" text-anchor="middle" fill="#262626" stroke="#262626" stroke-width="0.05" >144</text>
<text transform="translate(34.20 69.70) scale(0.9516 1)" font-size="6.2" text-anchor="end" fill="#262626" stroke="#262626" stroke-width="0.05" >100</text>
<text transform="translate(147.10 136.70) scale(0.9516 1)" font-size="6.2" text-anchor="middle" fill="#262626" stroke="#262626" stroke-width="0.05" >180</text>
<text transform="translate(18.8,95.25) rotate(-90)" font-size="8.4" font-weight="bold" text-anchor="middle" fill="#2e2e2e" stroke="#2e2e2e" stroke-width="0.15" textLength="39" lengthAdjust="spacingAndGlyphs">Percent survival</text>
<text x="95" y="148.0" font-size="8.4" font-weight="bold" text-anchor="middle" fill="#2e2e2e" stroke="#2e2e2e" stroke-width="0.15" textLength="61.4" lengthAdjust="spacingAndGlyphs">Overall survival (months)</text>
<text transform="translate(42.00 123.80) scale(0.9516 1)" font-size="6.41" text-anchor="start" fill="#231f20" stroke="#231f20" stroke-width="0.1" ><tspan font-style="italic">P</tspan> = .001</text>
<text transform="translate(6.60 158.20) scale(0.9516 1)" font-size="6.095" text-anchor="start" fill="#231f20" stroke="#231f20" stroke-width="0.1" >Number at risk</text>
<text transform="translate(23.80 167.80) scale(0.9516 1)" font-size="6.2" text-anchor="end" fill="#c2cdb0" stroke="#c2cdb0" stroke-width="0.05" >&lt;30:</text>
<text transform="translate(40.00 167.80) scale(0.9516 1)" font-size="6.2" text-anchor="middle" fill="#231f20" stroke="#231f20" stroke-width="0.1" >150</text>
<text transform="translate(61.42 167.80) scale(0.9516 1)" font-size="6.2" text-anchor="middle" fill="#231f20" stroke="#231f20" stroke-width="0.1" >50</text>
<text transform="translate(82.84 167.80) scale(0.9516 1)" font-size="6.2" text-anchor="middle" fill="#231f20" stroke="#231f20" stroke-width="0.1" >21</text>
<text transform="translate(104.26 167.80) scale(0.9516 1)" font-size="6.2" text-anchor="middle" fill="#231f20" stroke="#231f20" stroke-width="0.1" >13</text>
<text transform="translate(125.68 167.80) scale(0.9516 1)" font-size="6.2" text-anchor="middle" fill="#231f20" stroke="#231f20" stroke-width="0.1" >3</text>
<text transform="translate(147.10 167.80) scale(0.9516 1)" font-size="6.2" text-anchor="middle" fill="#231f20" stroke="#231f20" stroke-width="0.1" >1</text>
<text transform="translate(23.80 177.40) scale(0.9516 1)" font-size="6.2" text-anchor="end" fill="#f0ac48" stroke="#f0ac48" stroke-width="0.05" >30-40:</text>
<text transform="translate(40.00 177.40) scale(0.9516 1)" font-size="6.2" text-anchor="middle" fill="#231f20" stroke="#231f20" stroke-width="0.1" >54</text>
<text transform="translate(61.42 177.40) scale(0.9516 1)" font-size="6.2" text-anchor="middle" fill="#231f20" stroke="#231f20" stroke-width="0.1" >16</text>
<text transform="translate(82.84 177.40) scale(0.9516 1)" font-size="6.2" text-anchor="middle" fill="#231f20" stroke="#231f20" stroke-width="0.1" >8</text>
<text transform="translate(104.26 177.40) scale(0.9516 1)" font-size="6.2" text-anchor="middle" fill="#231f20" stroke="#231f20" stroke-width="0.1" >5</text>
<text transform="translate(125.68 177.40) scale(0.9516 1)" font-size="6.2" text-anchor="middle" fill="#231f20" stroke="#231f20" stroke-width="0.1" >1</text>
<text transform="translate(147.10 177.40) scale(0.9516 1)" font-size="6.2" text-anchor="middle" fill="#231f20" stroke="#231f20" stroke-width="0.1" >0</text>
<text transform="translate(23.80 186.90) scale(0.9516 1)" font-size="6.2" text-anchor="end" fill="#4a4038" stroke="#4a4038" stroke-width="0.05" >&gt;40:</text>
<text transform="translate(40.00 186.90) scale(0.9516 1)" font-size="6.2" text-anchor="middle" fill="#231f20" stroke="#231f20" stroke-width="0.1" >17</text>
<text transform="translate(61.42 186.90) scale(0.9516 1)" font-size="6.2" text-anchor="middle" fill="#231f20" stroke="#231f20" stroke-width="0.1" >4</text>
<text transform="translate(82.84 186.90) scale(0.9516 1)" font-size="6.2" text-anchor="middle" fill="#231f20" stroke="#231f20" stroke-width="0.1" >0</text>
<text transform="translate(104.26 186.90) scale(0.9516 1)" font-size="6.2" text-anchor="middle" fill="#231f20" stroke="#231f20" stroke-width="0.1" >0</text>
<text transform="translate(125.68 186.90) scale(0.9516 1)" font-size="6.2" text-anchor="middle" fill="#231f20" stroke="#231f20" stroke-width="0.1" >0</text>
<text transform="translate(147.10 186.90) scale(0.9516 1)" font-size="6.2" text-anchor="middle" fill="#231f20" stroke="#231f20" stroke-width="0.1" >0</text>
</g>
<polyline points="40.50,270.50 41.50,271.50 45.50,275.50 49.50,278.50 53.50,281.50 56.50,284.50 59.50,287.50 62.50,290.50 68.50,291.50 70.50,292.50 81.50,293.50 82.50,296.50 105.50,296.50 105.50,299.50 144.50,299.50" fill="none" stroke="#a4bc8a" stroke-width="1.05" stroke-linejoin="miter"/>
<path d="M90.2,295.1v1.4M111.6,298.1v1.4M126.6,298.1v1.4M141.6,298.1v1.4" stroke="#a4bc8a" stroke-width="0.7" fill="none" opacity="0.7"/>
<polyline points="40.50,270.50 40.50,272.50 41.50,277.50 42.50,280.50 43.50,284.50 45.50,286.50 45.50,288.50 47.50,290.50 47.50,295.50 51.50,295.50 52.50,299.50 54.50,299.50 54.50,302.50 58.50,302.50 59.50,305.50 59.50,307.50 77.50,307.50" fill="none" stroke="#45372a" stroke-width="1.05" stroke-linejoin="miter"/>
<polyline points="40.50,270.50 41.50,272.50 44.50,275.50 46.50,278.50 49.50,284.50 51.50,287.50 54.50,290.50 57.50,293.50 59.50,297.50 60.50,301.50 62.50,304.50 70.50,304.50 70.50,306.50 77.50,306.50 78.50,309.50 88.50,309.50 88.50,311.50 106.50,311.50 106.50,314.50 112.50,314.50 112.50,318.50 141.50,318.50" fill="none" stroke="#eaa02c" stroke-width="1.05" stroke-linejoin="miter"/>
<path d="M97.5,310.1v1.4M120.5,317.1v1.4M135.5,317.1v1.4" stroke="#eaa02c" stroke-width="0.7" fill="none" opacity="0.7"/>
<g transform="translate(174.2,202.2)">
<text x="6.80" y="15.80" font-size="10.2" text-anchor="start" fill="#111" font-weight="bold" stroke="#111" stroke-width="0.35">E</text>
<text transform="translate(95.10 15.80) scale(0.9516 1)" font-size="8.302" text-anchor="middle" fill="#231f20" stroke="#231f20" stroke-width="0.1" >AYA patients (18-40 years)</text>
<text transform="translate(77.50 28.60) scale(0.9516 1)" font-size="6.2" text-anchor="middle" fill="#231f20" stroke="#231f20" stroke-width="0.1" >Median OS</text>
<text transform="translate(118.80 28.60) scale(0.9516 1)" font-size="6.2" text-anchor="middle" fill="#231f20" stroke="#231f20" stroke-width="0.1" >HR (95% CI)</text>
<text transform="translate(155.60 28.60) scale(0.9516 1)" font-size="6.2" text-anchor="middle" fill="#231f20" stroke="#231f20" stroke-width="0.1" ><tspan font-style="italic">P</tspan> value</text>
<line x1="19.9" y1="36.40" x2="26.0" y2="36.40" stroke="#a4bc8a" stroke-width="0.75" stroke-opacity="0.8"/>
<line x1="22.95" y1="35.20" x2="22.95" y2="36.40" stroke="#a4bc8a" stroke-width="0.7" stroke-opacity="0.8"/>
<text transform="translate(29.10 38.10) scale(0.9516 1)" font-size="6.2" text-anchor="start" fill="#c2cdb0" stroke="#c2cdb0" stroke-width="0.05" >BMI &lt;30:</text>
<text transform="translate(77.50 38.10) scale(0.9516 1)" font-size="6.2" text-anchor="middle" fill="#231f20" stroke="#231f20" stroke-width="0.1" >NR</text>
<text transform="translate(118.80 37.20) scale(0.9516 1)" font-size="6.2" text-anchor="middle" fill="#231f20" stroke="#231f20" stroke-width="0.1" >–</text>
<line x1="19.9" y1="46.00" x2="26.0" y2="46.00" stroke="#eaa02c" stroke-width="0.75" stroke-opacity="0.8"/>
<line x1="22.95" y1="44.80" x2="22.95" y2="46.00" stroke="#eaa02c" stroke-width="0.7" stroke-opacity="0.8"/>
<text transform="translate(29.10 47.70) scale(0.9516 1)" font-size="6.2" text-anchor="start" fill="#f0ac48" stroke="#f0ac48" stroke-width="0.05" >BMI 30-40:</text>
<text transform="translate(77.50 47.70) scale(0.9516 1)" font-size="6.2" text-anchor="middle" fill="#231f20" stroke="#231f20" stroke-width="0.1" >66 mo</text>
<text transform="translate(118.80 47.70) scale(0.9516 1)" font-size="6.2" text-anchor="middle" fill="#231f20" stroke="#231f20" stroke-width="0.1" textLength="50.02" lengthAdjust="spacing" >2.04 (1.27 – 3.28)</text>
<text transform="translate(155.60 47.70) scale(0.9516 1)" font-size="6.2" text-anchor="middle" fill="#231f20" stroke="#231f20" stroke-width="0.1" >.003</text>
<line x1="19.9" y1="55.70" x2="26.0" y2="55.70" stroke="#45372a" stroke-width="0.75" stroke-opacity="0.8"/>
<line x1="22.95" y1="54.50" x2="22.95" y2="55.70" stroke="#45372a" stroke-width="0.7" stroke-opacity="0.8"/>
<text transform="translate(29.10 57.40) scale(0.9516 1)" font-size="6.2" text-anchor="start" fill="#4a4038" stroke="#4a4038" stroke-width="0.05" >BMI &gt;40:</text>
<text transform="translate(77.50 57.40) scale(0.9516 1)" font-size="6.2" text-anchor="middle" fill="#231f20" stroke="#231f20" stroke-width="0.1" >27 mo</text>
<text transform="translate(118.80 57.40) scale(0.9516 1)" font-size="6.2" text-anchor="middle" fill="#231f20" stroke="#231f20" stroke-width="0.1" textLength="50.02" lengthAdjust="spacing" >2.70 (1.34 – 5.42)</text>
<text transform="translate(155.60 57.40) scale(0.9516 1)" font-size="6.2" text-anchor="middle" fill="#231f20" stroke="#231f20" stroke-width="0.1" >.005</text>
<g stroke="#1e1e1e" stroke-width="1.35" fill="none">
<line x1="40.0" y1="65.39999999999999" x2="40.0" y2="125.89999999999999"/>
<line x1="39.45" y1="125.3" x2="149.29999999999998" y2="125.3"/>
<line x1="37.1" y1="125.30" x2="40.0" y2="125.30"/>
<line x1="40.00" y1="125.3" x2="40.00" y2="128.4"/>
<line x1="37.1" y1="113.76" x2="40.0" y2="113.76"/>
<line x1="61.42" y1="125.3" x2="61.42" y2="128.4"/>
<line x1="37.1" y1="102.22" x2="40.0" y2="102.22"/>
<line x1="82.84" y1="125.3" x2="82.84" y2="128.4"/>
<line x1="37.1" y1="90.68" x2="40.0" y2="90.68"/>
<line x1="104.26" y1="125.3" x2="104.26" y2="128.4"/>
<line x1="37.1" y1="79.14" x2="40.0" y2="79.14"/>
<line x1="125.68" y1="125.3" x2="125.68" y2="128.4"/>
<line x1="37.1" y1="67.60" x2="40.0" y2="67.60"/>
<line x1="147.10" y1="125.3" x2="147.10" y2="128.4"/>
</g>
<text transform="translate(34.20 127.40) scale(0.9516 1)" font-size="6.2" text-anchor="end" fill="#262626" stroke="#262626" stroke-width="0.05" >0</text>
<text transform="translate(40.00 136.70) scale(0.9516 1)" font-size="6.2" text-anchor="middle" fill="#262626" stroke="#262626" stroke-width="0.05" >0</text>
<text transform="translate(34.20 115.86) scale(0.9516 1)" font-size="6.2" text-anchor="end" fill="#262626" stroke="#262626" stroke-width="0.05" >20</text>
<text transform="translate(61.42 136.70) scale(0.9516 1)" font-size="6.2" text-anchor="middle" fill="#262626" stroke="#262626" stroke-width="0.05" >36</text>
<text transform="translate(34.20 104.32) scale(0.9516 1)" font-size="6.2" text-anchor="end" fill="#262626" stroke="#262626" stroke-width="0.05" >40</text>
<text transform="translate(82.84 136.70) scale(0.9516 1)" font-size="6.2" text-anchor="middle" fill="#262626" stroke="#262626" stroke-width="0.05" >72</text>
<text transform="translate(34.20 92.78) scale(0.9516 1)" font-size="6.2" text-anchor="end" fill="#262626" stroke="#262626" stroke-width="0.05" >60</text>
<text transform="translate(104.26 136.70) scale(0.9516 1)" font-size="6.2" text-anchor="middle" fill="#262626" stroke="#262626" stroke-width="0.05" >108</text>
<text transform="translate(34.20 81.24) scale(0.9516 1)" font-size="6.2" text-anchor="end" fill="#262626" stroke="#262626" stroke-width="0.05" >80</text>
<text transform="translate(125.68 136.70) scale(0.9516 1)" font-size="6.2" text-anchor="middle" fill="#262626" stroke="#262626" stroke-width="0.05" >144</text>
<text transform="translate(34.20 69.70) scale(0.9516 1)" font-size="6.2" text-anchor="end" fill="#262626" stroke="#262626" stroke-width="0.05" >100</text>
<text transform="translate(147.10 136.70) scale(0.9516 1)" font-size="6.2" text-anchor="middle" fill="#262626" stroke="#262626" stroke-width="0.05" >180</text>
<text transform="translate(18.8,95.25) rotate(-90)" font-size="8.4" font-weight="bold" text-anchor="middle" fill="#2e2e2e" stroke="#2e2e2e" stroke-width="0.15" textLength="39" lengthAdjust="spacingAndGlyphs">Percent survival</text>
<text x="95" y="148.0" font-size="8.4" font-weight="bold" text-anchor="middle" fill="#2e2e2e" stroke="#2e2e2e" stroke-width="0.15" textLength="61.4" lengthAdjust="spacingAndGlyphs">Overall survival (months)</text>
<text transform="translate(42.00 123.80) scale(0.9516 1)" font-size="6.41" text-anchor="start" fill="#231f20" stroke="#231f20" stroke-width="0.1" ><tspan font-style="italic">P</tspan> = .017</text>
<text transform="translate(6.60 158.20) scale(0.9516 1)" font-size="6.095" text-anchor="start" fill="#231f20" stroke="#231f20" stroke-width="0.1" >Number at risk</text>
<text transform="translate(23.80 167.80) scale(0.9516 1)" font-size="6.2" text-anchor="end" fill="#c2cdb0" stroke="#c2cdb0" stroke-width="0.05" >&lt;30:</text>
<text transform="translate(40.00 167.80) scale(0.9516 1)" font-size="6.2" text-anchor="middle" fill="#231f20" stroke="#231f20" stroke-width="0.1" >65</text>
<text transform="translate(61.42 167.80) scale(0.9516 1)" font-size="6.2" text-anchor="middle" fill="#231f20" stroke="#231f20" stroke-width="0.1" >26</text>
<text transform="translate(82.84 167.80) scale(0.9516 1)" font-size="6.2" text-anchor="middle" fill="#231f20" stroke="#231f20" stroke-width="0.1" >10</text>
<text transform="translate(104.26 167.80) scale(0.9516 1)" font-size="6.2" text-anchor="middle" fill="#231f20" stroke="#231f20" stroke-width="0.1" >7</text>
<text transform="translate(125.68 167.80) scale(0.9516 1)" font-size="6.2" text-anchor="middle" fill="#231f20" stroke="#231f20" stroke-width="0.1" >1</text>
<text transform="translate(147.10 167.80) scale(0.9516 1)" font-size="6.2" text-anchor="middle" fill="#231f20" stroke="#231f20" stroke-width="0.1" >1</text>
<text transform="translate(23.80 177.40) scale(0.9516 1)" font-size="6.2" text-anchor="end" fill="#f0ac48" stroke="#f0ac48" stroke-width="0.05" >30-40:</text>
<text transform="translate(40.00 177.40) scale(0.9516 1)" font-size="6.2" text-anchor="middle" fill="#231f20" stroke="#231f20" stroke-width="0.1" >20</text>
<text transform="translate(61.42 177.40) scale(0.9516 1)" font-size="6.2" text-anchor="middle" fill="#231f20" stroke="#231f20" stroke-width="0.1" >6</text>
<text transform="translate(82.84 177.40) scale(0.9516 1)" font-size="6.2" text-anchor="middle" fill="#231f20" stroke="#231f20" stroke-width="0.1" >3</text>
<text transform="translate(104.26 177.40) scale(0.9516 1)" font-size="6.2" text-anchor="middle" fill="#231f20" stroke="#231f20" stroke-width="0.1" >1</text>
<text transform="translate(125.68 177.40) scale(0.9516 1)" font-size="6.2" text-anchor="middle" fill="#231f20" stroke="#231f20" stroke-width="0.1" >1</text>
<text transform="translate(147.10 177.40) scale(0.9516 1)" font-size="6.2" text-anchor="middle" fill="#231f20" stroke="#231f20" stroke-width="0.1" >0</text>
<text transform="translate(23.80 186.90) scale(0.9516 1)" font-size="6.2" text-anchor="end" fill="#4a4038" stroke="#4a4038" stroke-width="0.05" >&gt;40:</text>
<text transform="translate(40.00 186.90) scale(0.9516 1)" font-size="6.2" text-anchor="middle" fill="#231f20" stroke="#231f20" stroke-width="0.1" >8</text>
<text transform="translate(61.42 186.90) scale(0.9516 1)" font-size="6.2" text-anchor="middle" fill="#231f20" stroke="#231f20" stroke-width="0.1" >2</text>
<text transform="translate(82.84 186.90) scale(0.9516 1)" font-size="6.2" text-anchor="middle" fill="#231f20" stroke="#231f20" stroke-width="0.1" >0</text>
<text transform="translate(104.26 186.90) scale(0.9516 1)" font-size="6.2" text-anchor="middle" fill="#231f20" stroke="#231f20" stroke-width="0.1" >0</text>
<text transform="translate(125.68 186.90) scale(0.9516 1)" font-size="6.2" text-anchor="middle" fill="#231f20" stroke="#231f20" stroke-width="0.1" >0</text>
<text transform="translate(147.10 186.90) scale(0.9516 1)" font-size="6.2" text-anchor="middle" fill="#231f20" stroke="#231f20" stroke-width="0.1" >0</text>
</g>
<polyline points="214.50,269.50 218.50,270.50 222.50,271.50 224.50,273.50 227.50,275.50 229.50,276.50 230.50,278.50 233.50,282.50 236.50,286.50 239.50,288.50 242.50,289.50 243.50,291.50 319.50,291.50" fill="none" stroke="#a4bc8a" stroke-width="1.05" stroke-linejoin="miter"/>
<polyline points="214.50,269.50 214.50,278.50 217.50,278.50 217.50,285.50 221.50,285.50 221.50,292.50 226.50,292.50 226.50,299.50 233.50,299.50 233.50,306.50 248.50,306.50" fill="none" stroke="#45372a" stroke-width="1.05" stroke-linejoin="miter"/>
<path d="M242.8,305.1v1.4" stroke="#45372a" stroke-width="0.7" fill="none" opacity="0.7"/>
<polyline points="214.50,270.50 216.50,272.50 218.50,272.50 218.50,274.50 221.50,275.50 221.50,277.50 223.50,278.50 224.50,280.50 226.50,281.50 227.50,284.50 229.50,285.50 230.50,288.50 232.50,290.50 232.50,299.50 252.50,299.50 252.50,306.50 263.50,306.50 263.50,313.50 316.50,313.50" fill="none" stroke="#eaa02c" stroke-width="1.05" stroke-linejoin="miter"/>
<path d="M272.7,312.1v1.4M282.7,312.1v1.4M297.7,312.1v1.4M312.7,312.1v1.4" stroke="#eaa02c" stroke-width="0.7" fill="none" opacity="0.7"/>
<g transform="translate(348.6,202.2)">
<text x="6.80" y="15.80" font-size="10.2" text-anchor="start" fill="#111" font-weight="bold" stroke="#111" stroke-width="0.35">F</text>
<text transform="translate(95.10 15.80) scale(0.9516 1)" font-size="8.302" text-anchor="middle" fill="#231f20" stroke="#231f20" stroke-width="0.1" >Older adults (&gt;40 years)</text>
<text transform="translate(77.50 28.60) scale(0.9516 1)" font-size="6.2" text-anchor="middle" fill="#231f20" stroke="#231f20" stroke-width="0.1" >Median OS</text>
<text transform="translate(118.80 28.60) scale(0.9516 1)" font-size="6.2" text-anchor="middle" fill="#231f20" stroke="#231f20" stroke-width="0.1" >HR (95% CI)</text>
<text transform="translate(155.60 28.60) scale(0.9516 1)" font-size="6.2" text-anchor="middle" fill="#231f20" stroke="#231f20" stroke-width="0.1" ><tspan font-style="italic">P</tspan> value</text>
<line x1="19.9" y1="36.40" x2="26.0" y2="36.40" stroke="#a4bc8a" stroke-width="0.75" stroke-opacity="0.8"/>
<line x1="22.95" y1="35.20" x2="22.95" y2="36.40" stroke="#a4bc8a" stroke-width="0.7" stroke-opacity="0.8"/>
<text transform="translate(29.10 38.10) scale(0.9516 1)" font-size="6.2" text-anchor="start" fill="#c2cdb0" stroke="#c2cdb0" stroke-width="0.05" >BMI &lt;30:</text>
<text transform="translate(77.50 38.10) scale(0.9516 1)" font-size="6.2" text-anchor="middle" fill="#231f20" stroke="#231f20" stroke-width="0.1" >72 mo</text>
<text transform="translate(118.80 37.20) scale(0.9516 1)" font-size="6.2" text-anchor="middle" fill="#231f20" stroke="#231f20" stroke-width="0.1" >–</text>
<line x1="19.9" y1="46.00" x2="26.0" y2="46.00" stroke="#eaa02c" stroke-width="0.75" stroke-opacity="0.8"/>
<line x1="22.95" y1="44.80" x2="22.95" y2="46.00" stroke="#eaa02c" stroke-width="0.7" stroke-opacity="0.8"/>
<text transform="translate(29.10 47.70) scale(0.9516 1)" font-size="6.2" text-anchor="start" fill="#f0ac48" stroke="#f0ac48" stroke-width="0.05" >BMI 30-40:</text>
<text transform="translate(77.50 47.70) scale(0.9516 1)" font-size="6.2" text-anchor="middle" fill="#231f20" stroke="#231f20" stroke-width="0.1" >34 mo</text>
<text transform="translate(118.80 47.70) scale(0.9516 1)" font-size="6.2" text-anchor="middle" fill="#231f20" stroke="#231f20" stroke-width="0.1" textLength="50.02" lengthAdjust="spacing" >1.76 (0.99 – 3.14)</text>
<text transform="translate(155.60 47.70) scale(0.9516 1)" font-size="6.2" text-anchor="middle" fill="#231f20" stroke="#231f20" stroke-width="0.1" >.05</text>
<line x1="19.9" y1="55.70" x2="26.0" y2="55.70" stroke="#45372a" stroke-width="0.75" stroke-opacity="0.8"/>
<line x1="22.95" y1="54.50" x2="22.95" y2="55.70" stroke="#45372a" stroke-width="0.7" stroke-opacity="0.8"/>
<text transform="translate(29.10 57.40) scale(0.9516 1)" font-size="6.2" text-anchor="start" fill="#4a4038" stroke="#4a4038" stroke-width="0.05" >BMI &gt;40:</text>
<text transform="translate(77.50 57.40) scale(0.9516 1)" font-size="6.2" text-anchor="middle" fill="#231f20" stroke="#231f20" stroke-width="0.1" >19 mo</text>
<text transform="translate(118.80 57.40) scale(0.9516 1)" font-size="6.2" text-anchor="middle" fill="#231f20" stroke="#231f20" stroke-width="0.1" textLength="50.02" lengthAdjust="spacing" >2.30 (0.88 – 6.05)</text>
<text transform="translate(155.60 57.40) scale(0.9516 1)" font-size="6.2" text-anchor="middle" fill="#231f20" stroke="#231f20" stroke-width="0.1" >.08</text>
<g stroke="#1e1e1e" stroke-width="1.35" fill="none">
<line x1="40.0" y1="65.39999999999999" x2="40.0" y2="125.89999999999999"/>
<line x1="39.45" y1="125.3" x2="149.29999999999998" y2="125.3"/>
<line x1="37.1" y1="125.30" x2="40.0" y2="125.30"/>
<line x1="40.00" y1="125.3" x2="40.00" y2="128.4"/>
<line x1="37.1" y1="113.76" x2="40.0" y2="113.76"/>
<line x1="61.42" y1="125.3" x2="61.42" y2="128.4"/>
<line x1="37.1" y1="102.22" x2="40.0" y2="102.22"/>
<line x1="82.84" y1="125.3" x2="82.84" y2="128.4"/>
<line x1="37.1" y1="90.68" x2="40.0" y2="90.68"/>
<line x1="104.26" y1="125.3" x2="104.26" y2="128.4"/>
<line x1="37.1" y1="79.14" x2="40.0" y2="79.14"/>
<line x1="125.68" y1="125.3" x2="125.68" y2="128.4"/>
<line x1="37.1" y1="67.60" x2="40.0" y2="67.60"/>
<line x1="147.10" y1="125.3" x2="147.10" y2="128.4"/>
</g>
<text transform="translate(34.20 127.40) scale(0.9516 1)" font-size="6.2" text-anchor="end" fill="#262626" stroke="#262626" stroke-width="0.05" >0</text>
<text transform="translate(40.00 136.70) scale(0.9516 1)" font-size="6.2" text-anchor="middle" fill="#262626" stroke="#262626" stroke-width="0.05" >0</text>
<text transform="translate(34.20 115.86) scale(0.9516 1)" font-size="6.2" text-anchor="end" fill="#262626" stroke="#262626" stroke-width="0.05" >20</text>
<text transform="translate(61.42 136.70) scale(0.9516 1)" font-size="6.2" text-anchor="middle" fill="#262626" stroke="#262626" stroke-width="0.05" >36</text>
<text transform="translate(34.20 104.32) scale(0.9516 1)" font-size="6.2" text-anchor="end" fill="#262626" stroke="#262626" stroke-width="0.05" >40</text>
<text transform="translate(82.84 136.70) scale(0.9516 1)" font-size="6.2" text-anchor="middle" fill="#262626" stroke="#262626" stroke-width="0.05" >72</text>
<text transform="translate(34.20 92.78) scale(0.9516 1)" font-size="6.2" text-anchor="end" fill="#262626" stroke="#262626" stroke-width="0.05" >60</text>
<text transform="translate(104.26 136.70) scale(0.9516 1)" font-size="6.2" text-anchor="middle" fill="#262626" stroke="#262626" stroke-width="0.05" >108</text>
<text transform="translate(34.20 81.24) scale(0.9516 1)" font-size="6.2" text-anchor="end" fill="#262626" stroke="#262626" stroke-width="0.05" >80</text>
<text transform="translate(125.68 136.70) scale(0.9516 1)" font-size="6.2" text-anchor="middle" fill="#262626" stroke="#262626" stroke-width="0.05" >144</text>
<text transform="translate(34.20 69.70) scale(0.9516 1)" font-size="6.2" text-anchor="end" fill="#262626" stroke="#262626" stroke-width="0.05" >100</text>
<text transform="translate(147.10 136.70) scale(0.9516 1)" font-size="6.2" text-anchor="middle" fill="#262626" stroke="#262626" stroke-width="0.05" >180</text>
<text transform="translate(18.8,95.25) rotate(-90)" font-size="8.4" font-weight="bold" text-anchor="middle" fill="#2e2e2e" stroke="#2e2e2e" stroke-width="0.15" textLength="39" lengthAdjust="spacingAndGlyphs">Percent survival</text>
<text x="95" y="148.0" font-size="8.4" font-weight="bold" text-anchor="middle" fill="#2e2e2e" stroke="#2e2e2e" stroke-width="0.15" textLength="61.4" lengthAdjust="spacingAndGlyphs">Overall survival (months)</text>
<text transform="translate(42.00 123.80) scale(0.9516 1)" font-size="6.41" text-anchor="start" fill="#231f20" stroke="#231f20" stroke-width="0.1" ><tspan font-style="italic">P</tspan> = .06</text>
<text transform="translate(6.60 158.20) scale(0.9516 1)" font-size="6.095" text-anchor="start" fill="#231f20" stroke="#231f20" stroke-width="0.1" >Number at risk</text>
<text transform="translate(23.80 167.80) scale(0.9516 1)" font-size="6.2" text-anchor="end" fill="#c2cdb0" stroke="#c2cdb0" stroke-width="0.05" >&lt;30:</text>
<text transform="translate(40.00 167.80) scale(0.9516 1)" font-size="6.2" text-anchor="middle" fill="#231f20" stroke="#231f20" stroke-width="0.1" >85</text>
<text transform="translate(61.42 167.80) scale(0.9516 1)" font-size="6.2" text-anchor="middle" fill="#231f20" stroke="#231f20" stroke-width="0.1" >24</text>
<text transform="translate(82.84 167.80) scale(0.9516 1)" font-size="6.2" text-anchor="middle" fill="#231f20" stroke="#231f20" stroke-width="0.1" >11</text>
<text transform="translate(104.26 167.80) scale(0.9516 1)" font-size="6.2" text-anchor="middle" fill="#231f20" stroke="#231f20" stroke-width="0.1" >6</text>
<text transform="translate(125.68 167.80) scale(0.9516 1)" font-size="6.2" text-anchor="middle" fill="#231f20" stroke="#231f20" stroke-width="0.1" >2</text>
<text transform="translate(147.10 167.80) scale(0.9516 1)" font-size="6.2" text-anchor="middle" fill="#231f20" stroke="#231f20" stroke-width="0.1" >0</text>
<text transform="translate(23.80 177.40) scale(0.9516 1)" font-size="6.2" text-anchor="end" fill="#f0ac48" stroke="#f0ac48" stroke-width="0.05" >30-40:</text>
<text transform="translate(40.00 177.40) scale(0.9516 1)" font-size="6.2" text-anchor="middle" fill="#231f20" stroke="#231f20" stroke-width="0.1" >34</text>
<text transform="translate(61.42 177.40) scale(0.9516 1)" font-size="6.2" text-anchor="middle" fill="#231f20" stroke="#231f20" stroke-width="0.1" >10</text>
<text transform="translate(82.84 177.40) scale(0.9516 1)" font-size="6.2" text-anchor="middle" fill="#231f20" stroke="#231f20" stroke-width="0.1" >5</text>
<text transform="translate(104.26 177.40) scale(0.9516 1)" font-size="6.2" text-anchor="middle" fill="#231f20" stroke="#231f20" stroke-width="0.1" >4</text>
<text transform="translate(125.68 177.40) scale(0.9516 1)" font-size="6.2" text-anchor="middle" fill="#231f20" stroke="#231f20" stroke-width="0.1" >0</text>
<text transform="translate(147.10 177.40) scale(0.9516 1)" font-size="6.2" text-anchor="middle" fill="#231f20" stroke="#231f20" stroke-width="0.1" >0</text>
<text transform="translate(23.80 186.90) scale(0.9516 1)" font-size="6.2" text-anchor="end" fill="#4a4038" stroke="#4a4038" stroke-width="0.05" >&gt;40:</text>
<text transform="translate(40.00 186.90) scale(0.9516 1)" font-size="6.2" text-anchor="middle" fill="#231f20" stroke="#231f20" stroke-width="0.1" >9</text>
<text transform="translate(61.42 186.90) scale(0.9516 1)" font-size="6.2" text-anchor="middle" fill="#231f20" stroke="#231f20" stroke-width="0.1" >2</text>
<text transform="translate(82.84 186.90) scale(0.9516 1)" font-size="6.2" text-anchor="middle" fill="#231f20" stroke="#231f20" stroke-width="0.1" >0</text>
<text transform="translate(104.26 186.90) scale(0.9516 1)" font-size="6.2" text-anchor="middle" fill="#231f20" stroke="#231f20" stroke-width="0.1" >0</text>
<text transform="translate(125.68 186.90) scale(0.9516 1)" font-size="6.2" text-anchor="middle" fill="#231f20" stroke="#231f20" stroke-width="0.1" >0</text>
<text transform="translate(147.10 186.90) scale(0.9516 1)" font-size="6.2" text-anchor="middle" fill="#231f20" stroke="#231f20" stroke-width="0.1" >0</text>
</g>
<polyline points="388.50,270.50 389.50,272.50 393.50,278.50 397.50,282.50 401.50,284.50 405.50,287.50 409.50,292.50 419.50,292.50 419.50,294.50 430.50,294.50 430.50,301.50 455.50,301.50 455.50,305.50 473.50,305.50" fill="none" stroke="#a4bc8a" stroke-width="1.05" stroke-linejoin="miter"/>
<path d="M436.7,300.1v1.4M461.5,304.1v1.4" stroke="#a4bc8a" stroke-width="0.7" fill="none" opacity="0.7"/>
<polyline points="388.50,270.50 389.50,272.50 390.50,277.50 391.50,284.50 393.50,284.50 393.50,292.50 395.50,292.50 395.50,299.50 403.50,299.50 403.50,306.50 416.50,306.50" fill="none" stroke="#45372a" stroke-width="1.05" stroke-linejoin="miter"/>
<polyline points="388.50,270.50 389.50,272.50 392.50,277.50 394.50,282.50 396.50,286.50 398.50,289.50 399.50,292.50 400.50,294.50 407.50,295.50 408.50,302.50 410.50,304.50 411.50,306.50 418.50,307.50 419.50,310.50 455.50,310.50 455.50,315.50 462.50,315.50 462.50,321.50 466.50,321.50" fill="none" stroke="#eaa02c" stroke-width="1.05" stroke-linejoin="miter"/>
<path d="M429.8,309.1v1.4M439.8,309.1v1.4" stroke="#eaa02c" stroke-width="0.7" fill="none" opacity="0.7"/>
<g transform="translate(0,404.5)">
<text x="6.80" y="15.80" font-size="10.2" text-anchor="start" fill="#111" font-weight="bold" stroke="#111" stroke-width="0.35">G</text>
<text transform="translate(95.10 15.80) scale(0.9516 1)" font-size="8.302" text-anchor="middle" fill="#231f20" stroke="#231f20" stroke-width="0.1" >Adults with ALL</text>
<text transform="translate(25.00 28.60) scale(0.9516 1)" font-size="6.2" text-anchor="start" fill="#231f20" stroke="#231f20" stroke-width="0.1" >Income:</text>
<text transform="translate(71.40 28.60) scale(0.9516 1)" font-size="6.2" text-anchor="middle" fill="#231f20" stroke="#231f20" stroke-width="0.1" >Median OS</text>
<text transform="translate(113.30 28.60) scale(0.9516 1)" font-size="6.2" text-anchor="middle" fill="#231f20" stroke="#231f20" stroke-width="0.1" >HR (95% CI)</text>
<text transform="translate(150.00 28.60) scale(0.9516 1)" font-size="6.2" text-anchor="middle" fill="#231f20" stroke="#231f20" stroke-width="0.1" ><tspan font-style="italic">P</tspan> value</text>
<line x1="24.8" y1="36.40" x2="31.5" y2="36.40" stroke="#3a2d48" stroke-width="0.75" stroke-opacity="0.8"/>
<line x1="28.15" y1="35.20" x2="28.15" y2="36.40" stroke="#3a2d48" stroke-width="0.7" stroke-opacity="0.8"/>
<text transform="translate(34.60 38.10) scale(0.9516 1)" font-size="6.2" text-anchor="start" fill="#3d3550" stroke="#3d3550" stroke-width="0.05" >High:</text>
<text transform="translate(71.40 38.10) scale(0.9516 1)" font-size="6.2" text-anchor="middle" fill="#231f20" stroke="#231f20" stroke-width="0.1" >72 mo</text>
<text transform="translate(113.30 37.20) scale(0.9516 1)" font-size="6.2" text-anchor="middle" fill="#231f20" stroke="#231f20" stroke-width="0.1" >–</text>
<line x1="24.8" y1="46.00" x2="31.5" y2="46.00" stroke="#c92d84" stroke-width="0.75" stroke-opacity="0.8"/>
<line x1="28.15" y1="44.80" x2="28.15" y2="46.00" stroke="#c92d84" stroke-width="0.7" stroke-opacity="0.8"/>
<text transform="translate(34.60 47.70) scale(0.9516 1)" font-size="6.2" text-anchor="start" fill="#e23d9d" stroke="#e23d9d" stroke-width="0.05" >Middle:</text>
<text transform="translate(71.40 47.70) scale(0.9516 1)" font-size="6.2" text-anchor="middle" fill="#231f20" stroke="#231f20" stroke-width="0.1" >42 mo</text>
<text transform="translate(113.30 47.70) scale(0.9516 1)" font-size="6.2" text-anchor="middle" fill="#231f20" stroke="#231f20" stroke-width="0.1" textLength="50.02" lengthAdjust="spacing" >1.54 (0.91 – 2.61)</text>
<text transform="translate(150.00 47.70) scale(0.9516 1)" font-size="6.2" text-anchor="middle" fill="#231f20" stroke="#231f20" stroke-width="0.1" >.10</text>
<line x1="24.8" y1="55.70" x2="31.5" y2="55.70" stroke="#9ea2cc" stroke-width="0.75" stroke-opacity="0.8"/>
<line x1="28.15" y1="54.50" x2="28.15" y2="55.70" stroke="#9ea2cc" stroke-width="0.7" stroke-opacity="0.8"/>
<text transform="translate(34.60 57.40) scale(0.9516 1)" font-size="6.2" text-anchor="start" fill="#9aa4c0" stroke="#9aa4c0" stroke-width="0.05" >Low:</text>
<text transform="translate(71.40 57.40) scale(0.9516 1)" font-size="6.2" text-anchor="middle" fill="#231f20" stroke="#231f20" stroke-width="0.1" >84 mo</text>
<text transform="translate(113.30 57.40) scale(0.9516 1)" font-size="6.2" text-anchor="middle" fill="#231f20" stroke="#231f20" stroke-width="0.1" textLength="50.02" lengthAdjust="spacing" >1.14 (0.53 – 2.46)</text>
<text transform="translate(150.00 57.40) scale(0.9516 1)" font-size="6.2" text-anchor="middle" fill="#231f20" stroke="#231f20" stroke-width="0.1" >.72</text>
<g stroke="#1e1e1e" stroke-width="1.35" fill="none">
<line x1="40.0" y1="65.39999999999999" x2="40.0" y2="125.89999999999999"/>
<line x1="39.45" y1="125.3" x2="149.29999999999998" y2="125.3"/>
<line x1="37.1" y1="125.30" x2="40.0" y2="125.30"/>
<line x1="40.00" y1="125.3" x2="40.00" y2="128.4"/>
<line x1="37.1" y1="113.76" x2="40.0" y2="113.76"/>
<line x1="61.42" y1="125.3" x2="61.42" y2="128.4"/>
<line x1="37.1" y1="102.22" x2="40.0" y2="102.22"/>
<line x1="82.84" y1="125.3" x2="82.84" y2="128.4"/>
<line x1="37.1" y1="90.68" x2="40.0" y2="90.68"/>
<line x1="104.26" y1="125.3" x2="104.26" y2="128.4"/>
<line x1="37.1" y1="79.14" x2="40.0" y2="79.14"/>
<line x1="125.68" y1="125.3" x2="125.68" y2="128.4"/>
<line x1="37.1" y1="67.60" x2="40.0" y2="67.60"/>
<line x1="147.10" y1="125.3" x2="147.10" y2="128.4"/>
</g>
<text transform="translate(34.20 127.40) scale(0.9516 1)" font-size="6.2" text-anchor="end" fill="#262626" stroke="#262626" stroke-width="0.05" >0</text>
<text transform="translate(40.00 136.70) scale(0.9516 1)" font-size="6.2" text-anchor="middle" fill="#262626" stroke="#262626" stroke-width="0.05" >0</text>
<text transform="translate(34.20 115.86) scale(0.9516 1)" font-size="6.2" text-anchor="end" fill="#262626" stroke="#262626" stroke-width="0.05" >20</text>
<text transform="translate(61.42 136.70) scale(0.9516 1)" font-size="6.2" text-anchor="middle" fill="#262626" stroke="#262626" stroke-width="0.05" >36</text>
<text transform="translate(34.20 104.32) scale(0.9516 1)" font-size="6.2" text-anchor="end" fill="#262626" stroke="#262626" stroke-width="0.05" >40</text>
<text transform="translate(82.84 136.70) scale(0.9516 1)" font-size="6.2" text-anchor="middle" fill="#262626" stroke="#262626" stroke-width="0.05" >72</text>
<text transform="translate(34.20 92.78) scale(0.9516 1)" font-size="6.2" text-anchor="end" fill="#262626" stroke="#262626" stroke-width="0.05" >60</text>
<text transform="translate(104.26 136.70) scale(0.9516 1)" font-size="6.2" text-anchor="middle" fill="#262626" stroke="#262626" stroke-width="0.05" >108</text>
<text transform="translate(34.20 81.24) scale(0.9516 1)" font-size="6.2" text-anchor="end" fill="#262626" stroke="#262626" stroke-width="0.05" >80</text>
<text transform="translate(125.68 136.70) scale(0.9516 1)" font-size="6.2" text-anchor="middle" fill="#262626" stroke="#262626" stroke-width="0.05" >144</text>
<text transform="translate(34.20 69.70) scale(0.9516 1)" font-size="6.2" text-anchor="end" fill="#262626" stroke="#262626" stroke-width="0.05" >100</text>
<text transform="translate(147.10 136.70) scale(0.9516 1)" font-size="6.2" text-anchor="middle" fill="#262626" stroke="#262626" stroke-width="0.05" >180</text>
<text transform="translate(18.8,95.25) rotate(-90)" font-size="8.4" font-weight="bold" text-anchor="middle" fill="#2e2e2e" stroke="#2e2e2e" stroke-width="0.15" textLength="39" lengthAdjust="spacingAndGlyphs">Percent survival</text>
<text x="95" y="148.0" font-size="8.4" font-weight="bold" text-anchor="middle" fill="#2e2e2e" stroke="#2e2e2e" stroke-width="0.15" textLength="61.4" lengthAdjust="spacingAndGlyphs">Overall survival (months)</text>
<text transform="translate(42.00 123.80) scale(0.9516 1)" font-size="6.41" text-anchor="start" fill="#231f20" stroke="#231f20" stroke-width="0.1" ><tspan font-style="italic">P</tspan> = .22</text>
<text transform="translate(6.60 158.20) scale(0.9516 1)" font-size="6.095" text-anchor="start" fill="#231f20" stroke="#231f20" stroke-width="0.1" >Number at risk</text>
<text transform="translate(26.20 167.20) scale(0.9516 1)" font-size="6.2" text-anchor="end" fill="#3d3550" stroke="#3d3550" stroke-width="0.05" >High:</text>
<text transform="translate(40.00 167.20) scale(0.9516 1)" font-size="6.2" text-anchor="middle" fill="#231f20" stroke="#231f20" stroke-width="0.1" >68</text>
<text transform="translate(61.42 167.20) scale(0.9516 1)" font-size="6.2" text-anchor="middle" fill="#231f20" stroke="#231f20" stroke-width="0.1" >22</text>
<text transform="translate(82.84 167.20) scale(0.9516 1)" font-size="6.2" text-anchor="middle" fill="#231f20" stroke="#231f20" stroke-width="0.1" >6</text>
<text transform="translate(104.26 167.20) scale(0.9516 1)" font-size="6.2" text-anchor="middle" fill="#231f20" stroke="#231f20" stroke-width="0.1" >5</text>
<text transform="translate(125.68 167.20) scale(0.9516 1)" font-size="6.2" text-anchor="middle" fill="#231f20" stroke="#231f20" stroke-width="0.1" >2</text>
<text transform="translate(147.10 167.20) scale(0.9516 1)" font-size="6.2" text-anchor="middle" fill="#231f20" stroke="#231f20" stroke-width="0.1" >0</text>
<text transform="translate(26.20 176.80) scale(0.9516 1)" font-size="6.2" text-anchor="end" fill="#e23d9d" stroke="#e23d9d" stroke-width="0.05" >Middle:</text>
<text transform="translate(40.00 176.80) scale(0.9516 1)" font-size="6.2" text-anchor="middle" fill="#231f20" stroke="#231f20" stroke-width="0.1" >119</text>
<text transform="translate(61.42 176.80) scale(0.9516 1)" font-size="6.2" text-anchor="middle" fill="#231f20" stroke="#231f20" stroke-width="0.1" >36</text>
<text transform="translate(82.84 176.80) scale(0.9516 1)" font-size="6.2" text-anchor="middle" fill="#231f20" stroke="#231f20" stroke-width="0.1" >17</text>
<text transform="translate(104.26 176.80) scale(0.9516 1)" font-size="6.2" text-anchor="middle" fill="#231f20" stroke="#231f20" stroke-width="0.1" >10</text>
<text transform="translate(125.68 176.80) scale(0.9516 1)" font-size="6.2" text-anchor="middle" fill="#231f20" stroke="#231f20" stroke-width="0.1" >1</text>
<text transform="translate(147.10 176.80) scale(0.9516 1)" font-size="6.2" text-anchor="middle" fill="#231f20" stroke="#231f20" stroke-width="0.1" >1</text>
<text transform="translate(26.20 186.30) scale(0.9516 1)" font-size="6.2" text-anchor="end" fill="#9aa4c0" stroke="#9aa4c0" stroke-width="0.05" >Low:</text>
<text transform="translate(40.00 186.30) scale(0.9516 1)" font-size="6.2" text-anchor="middle" fill="#231f20" stroke="#231f20" stroke-width="0.1" >32</text>
<text transform="translate(61.42 186.30) scale(0.9516 1)" font-size="6.2" text-anchor="middle" fill="#231f20" stroke="#231f20" stroke-width="0.1" >10</text>
<text transform="translate(82.84 186.30) scale(0.9516 1)" font-size="6.2" text-anchor="middle" fill="#231f20" stroke="#231f20" stroke-width="0.1" >5</text>
<text transform="translate(104.26 186.30) scale(0.9516 1)" font-size="6.2" text-anchor="middle" fill="#231f20" stroke="#231f20" stroke-width="0.1" >2</text>
<text transform="translate(125.68 186.30) scale(0.9516 1)" font-size="6.2" text-anchor="middle" fill="#231f20" stroke="#231f20" stroke-width="0.1" >0</text>
<text transform="translate(147.10 186.30) scale(0.9516 1)" font-size="6.2" text-anchor="middle" fill="#231f20" stroke="#231f20" stroke-width="0.1" >0</text>
</g>
<polyline points="40.50,475.50 43.50,479.50 46.50,483.50 49.50,487.50 51.50,490.50 55.50,492.50 58.50,494.50 62.50,495.50 87.50,495.50 87.50,504.50 115.50,504.50" fill="none" stroke="#9ea2cc" stroke-width="1.05" stroke-linejoin="miter"/>
<path d="M70.0,494.1v1.4M95.3,503.1v1.4M110.3,503.1v1.4" stroke="#9ea2cc" stroke-width="0.7" fill="none" opacity="0.7"/>
<polyline points="40.50,474.50 42.50,476.50 44.50,479.50 48.50,480.50 49.50,482.50 50.50,484.50 54.50,484.50 54.50,485.50 56.50,487.50 58.50,490.50 60.50,493.50 61.50,496.50 69.50,496.50 69.50,499.50 80.50,499.50 80.50,504.50 137.50,504.50" fill="none" stroke="#3a2d48" stroke-width="1.05" stroke-linejoin="miter"/>
<path d="M86.4,503.1v1.4M101.4,503.1v1.4M116.4,503.1v1.4M126.4,503.1v1.4" stroke="#3a2d48" stroke-width="0.7" fill="none" opacity="0.7"/>
<polyline points="40.50,476.50 44.50,481.50 46.50,484.50 49.50,487.50 51.50,490.50 54.50,492.50 56.50,493.50 58.50,496.50 59.50,499.50 61.50,502.50 63.50,503.50 68.50,504.50 70.50,504.50 79.50,507.50 103.50,507.50 103.50,512.50 110.50,512.50 110.50,517.50 141.50,517.50" fill="none" stroke="#c92d84" stroke-width="1.05" stroke-linejoin="miter"/>
<path d="M116.2,516.1v1.4M131.2,516.1v1.4" stroke="#c92d84" stroke-width="0.7" fill="none" opacity="0.7"/>
<g transform="translate(174.2,404.5)">
<text x="6.80" y="15.80" font-size="10.2" text-anchor="start" fill="#111" font-weight="bold" stroke="#111" stroke-width="0.35">H</text>
<text transform="translate(95.10 15.80) scale(0.9516 1)" font-size="8.302" text-anchor="middle" fill="#231f20" stroke="#231f20" stroke-width="0.1" >AYA patients (18-40 years)</text>
<text transform="translate(25.00 28.60) scale(0.9516 1)" font-size="6.2" text-anchor="start" fill="#231f20" stroke="#231f20" stroke-width="0.1" >Income:</text>
<text transform="translate(71.40 28.60) scale(0.9516 1)" font-size="6.2" text-anchor="middle" fill="#231f20" stroke="#231f20" stroke-width="0.1" >Median OS</text>
<text transform="translate(113.30 28.60) scale(0.9516 1)" font-size="6.2" text-anchor="middle" fill="#231f20" stroke="#231f20" stroke-width="0.1" >HR (95% CI)</text>
<text transform="translate(150.00 28.60) scale(0.9516 1)" font-size="6.2" text-anchor="middle" fill="#231f20" stroke="#231f20" stroke-width="0.1" ><tspan font-style="italic">P</tspan> value</text>
<line x1="24.8" y1="36.40" x2="31.5" y2="36.40" stroke="#3a2d48" stroke-width="0.75" stroke-opacity="0.8"/>
<line x1="28.15" y1="35.20" x2="28.15" y2="36.40" stroke="#3a2d48" stroke-width="0.7" stroke-opacity="0.8"/>
<text transform="translate(34.60 38.10) scale(0.9516 1)" font-size="6.2" text-anchor="start" fill="#3d3550" stroke="#3d3550" stroke-width="0.05" >High:</text>
<text transform="translate(71.40 38.10) scale(0.9516 1)" font-size="6.2" text-anchor="middle" fill="#231f20" stroke="#231f20" stroke-width="0.1" >NR</text>
<text transform="translate(113.30 37.20) scale(0.9516 1)" font-size="6.2" text-anchor="middle" fill="#231f20" stroke="#231f20" stroke-width="0.1" >–</text>
<line x1="24.8" y1="46.00" x2="31.5" y2="46.00" stroke="#c92d84" stroke-width="0.75" stroke-opacity="0.8"/>
<line x1="28.15" y1="44.80" x2="28.15" y2="46.00" stroke="#c92d84" stroke-width="0.7" stroke-opacity="0.8"/>
<text transform="translate(34.60 47.70) scale(0.9516 1)" font-size="6.2" text-anchor="start" fill="#e23d9d" stroke="#e23d9d" stroke-width="0.05" >Middle:</text>
<text transform="translate(71.40 47.70) scale(0.9516 1)" font-size="6.2" text-anchor="middle" fill="#231f20" stroke="#231f20" stroke-width="0.1" >48 mo</text>
<text transform="translate(113.30 47.70) scale(0.9516 1)" font-size="6.2" text-anchor="middle" fill="#231f20" stroke="#231f20" stroke-width="0.1" textLength="50.02" lengthAdjust="spacing" >1.75 (0.65 – 4.70)</text>
<text transform="translate(150.00 47.70) scale(0.9516 1)" font-size="6.2" text-anchor="middle" fill="#231f20" stroke="#231f20" stroke-width="0.1" >.26</text>
<line x1="24.8" y1="55.70" x2="31.5" y2="55.70" stroke="#9ea2cc" stroke-width="0.75" stroke-opacity="0.8"/>
<line x1="28.15" y1="54.50" x2="28.15" y2="55.70" stroke="#9ea2cc" stroke-width="0.7" stroke-opacity="0.8"/>
<text transform="translate(34.60 57.40) scale(0.9516 1)" font-size="6.2" text-anchor="start" fill="#9aa4c0" stroke="#9aa4c0" stroke-width="0.05" >Low:</text>
<text transform="translate(71.40 57.40) scale(0.9516 1)" font-size="6.2" text-anchor="middle" fill="#231f20" stroke="#231f20" stroke-width="0.1" >84 mo</text>
<text transform="translate(113.30 57.40) scale(0.9516 1)" font-size="6.2" text-anchor="middle" fill="#231f20" stroke="#231f20" stroke-width="0.1" textLength="50.02" lengthAdjust="spacing" >1.40 (0.37 – 5.24)</text>
<text transform="translate(150.00 57.40) scale(0.9516 1)" font-size="6.2" text-anchor="middle" fill="#231f20" stroke="#231f20" stroke-width="0.1" >.61</text>
<g stroke="#1e1e1e" stroke-width="1.35" fill="none">
<line x1="40.0" y1="65.39999999999999" x2="40.0" y2="125.89999999999999"/>
<line x1="39.45" y1="125.3" x2="149.29999999999998" y2="125.3"/>
<line x1="37.1" y1="125.30" x2="40.0" y2="125.30"/>
<line x1="40.00" y1="125.3" x2="40.00" y2="128.4"/>
<line x1="37.1" y1="113.76" x2="40.0" y2="113.76"/>
<line x1="61.42" y1="125.3" x2="61.42" y2="128.4"/>
<line x1="37.1" y1="102.22" x2="40.0" y2="102.22"/>
<line x1="82.84" y1="125.3" x2="82.84" y2="128.4"/>
<line x1="37.1" y1="90.68" x2="40.0" y2="90.68"/>
<line x1="104.26" y1="125.3" x2="104.26" y2="128.4"/>
<line x1="37.1" y1="79.14" x2="40.0" y2="79.14"/>
<line x1="125.68" y1="125.3" x2="125.68" y2="128.4"/>
<line x1="37.1" y1="67.60" x2="40.0" y2="67.60"/>
<line x1="147.10" y1="125.3" x2="147.10" y2="128.4"/>
</g>
<text transform="translate(34.20 127.40) scale(0.9516 1)" font-size="6.2" text-anchor="end" fill="#262626" stroke="#262626" stroke-width="0.05" >0</text>
<text transform="translate(40.00 136.70) scale(0.9516 1)" font-size="6.2" text-anchor="middle" fill="#262626" stroke="#262626" stroke-width="0.05" >0</text>
<text transform="translate(34.20 115.86) scale(0.9516 1)" font-size="6.2" text-anchor="end" fill="#262626" stroke="#262626" stroke-width="0.05" >20</text>
<text transform="translate(61.42 136.70) scale(0.9516 1)" font-size="6.2" text-anchor="middle" fill="#262626" stroke="#262626" stroke-width="0.05" >36</text>
<text transform="translate(34.20 104.32) scale(0.9516 1)" font-size="6.2" text-anchor="end" fill="#262626" stroke="#262626" stroke-width="0.05" >40</text>
<text transform="translate(82.84 136.70) scale(0.9516 1)" font-size="6.2" text-anchor="middle" fill="#262626" stroke="#262626" stroke-width="0.05" >72</text>
<text transform="translate(34.20 92.78) scale(0.9516 1)" font-size="6.2" text-anchor="end" fill="#262626" stroke="#262626" stroke-width="0.05" >60</text>
<text transform="translate(104.26 136.70) scale(0.9516 1)" font-size="6.2" text-anchor="middle" fill="#262626" stroke="#262626" stroke-width="0.05" >108</text>
<text transform="translate(34.20 81.24) scale(0.9516 1)" font-size="6.2" text-anchor="end" fill="#262626" stroke="#262626" stroke-width="0.05" >80</text>
<text transform="translate(125.68 136.70) scale(0.9516 1)" font-size="6.2" text-anchor="middle" fill="#262626" stroke="#262626" stroke-width="0.05" >144</text>
<text transform="translate(34.20 69.70) scale(0.9516 1)" font-size="6.2" text-anchor="end" fill="#262626" stroke="#262626" stroke-width="0.05" >100</text>
<text transform="translate(147.10 136.70) scale(0.9516 1)" font-size="6.2" text-anchor="middle" fill="#262626" stroke="#262626" stroke-width="0.05" >180</text>
<text transform="translate(18.8,95.25) rotate(-90)" font-size="8.4" font-weight="bold" text-anchor="middle" fill="#2e2e2e" stroke="#2e2e2e" stroke-width="0.15" textLength="39" lengthAdjust="spacingAndGlyphs">Percent survival</text>
<text x="95" y="148.0" font-size="8.4" font-weight="bold" text-anchor="middle" fill="#2e2e2e" stroke="#2e2e2e" stroke-width="0.15" textLength="61.4" lengthAdjust="spacingAndGlyphs">Overall survival (months)</text>
<text transform="translate(42.00 123.80) scale(0.9516 1)" font-size="6.41" text-anchor="start" fill="#231f20" stroke="#231f20" stroke-width="0.1" ><tspan font-style="italic">P</tspan> = .51</text>
<text transform="translate(6.60 158.20) scale(0.9516 1)" font-size="6.095" text-anchor="start" fill="#231f20" stroke="#231f20" stroke-width="0.1" >Number at risk</text>
<text transform="translate(26.20 167.20) scale(0.9516 1)" font-size="6.2" text-anchor="end" fill="#3d3550" stroke="#3d3550" stroke-width="0.05" >High:</text>
<text transform="translate(40.00 167.20) scale(0.9516 1)" font-size="6.2" text-anchor="middle" fill="#231f20" stroke="#231f20" stroke-width="0.1" >26</text>
<text transform="translate(61.42 167.20) scale(0.9516 1)" font-size="6.2" text-anchor="middle" fill="#231f20" stroke="#231f20" stroke-width="0.1" >10</text>
<text transform="translate(82.84 167.20) scale(0.9516 1)" font-size="6.2" text-anchor="middle" fill="#231f20" stroke="#231f20" stroke-width="0.1" >2</text>
<text transform="translate(104.26 167.20) scale(0.9516 1)" font-size="6.2" text-anchor="middle" fill="#231f20" stroke="#231f20" stroke-width="0.1" >2</text>
<text transform="translate(125.68 167.20) scale(0.9516 1)" font-size="6.2" text-anchor="middle" fill="#231f20" stroke="#231f20" stroke-width="0.1" >1</text>
<text transform="translate(147.10 167.20) scale(0.9516 1)" font-size="6.2" text-anchor="middle" fill="#231f20" stroke="#231f20" stroke-width="0.1" >0</text>
<text transform="translate(26.20 176.80) scale(0.9516 1)" font-size="6.2" text-anchor="end" fill="#e23d9d" stroke="#e23d9d" stroke-width="0.05" >Middle:</text>
<text transform="translate(40.00 176.80) scale(0.9516 1)" font-size="6.2" text-anchor="middle" fill="#231f20" stroke="#231f20" stroke-width="0.1" >52</text>
<text transform="translate(61.42 176.80) scale(0.9516 1)" font-size="6.2" text-anchor="middle" fill="#231f20" stroke="#231f20" stroke-width="0.1" >18</text>
<text transform="translate(82.84 176.80) scale(0.9516 1)" font-size="6.2" text-anchor="middle" fill="#231f20" stroke="#231f20" stroke-width="0.1" >8</text>
<text transform="translate(104.26 176.80) scale(0.9516 1)" font-size="6.2" text-anchor="middle" fill="#231f20" stroke="#231f20" stroke-width="0.1" >5</text>
<text transform="translate(125.68 176.80) scale(0.9516 1)" font-size="6.2" text-anchor="middle" fill="#231f20" stroke="#231f20" stroke-width="0.1" >1</text>
<text transform="translate(147.10 176.80) scale(0.9516 1)" font-size="6.2" text-anchor="middle" fill="#231f20" stroke="#231f20" stroke-width="0.1" >0</text>
<text transform="translate(26.20 186.30) scale(0.9516 1)" font-size="6.2" text-anchor="end" fill="#9aa4c0" stroke="#9aa4c0" stroke-width="0.05" >Low:</text>
<text transform="translate(40.00 186.30) scale(0.9516 1)" font-size="6.2" text-anchor="middle" fill="#231f20" stroke="#231f20" stroke-width="0.1" >14</text>
<text transform="translate(61.42 186.30) scale(0.9516 1)" font-size="6.2" text-anchor="middle" fill="#231f20" stroke="#231f20" stroke-width="0.1" >5</text>
<text transform="translate(82.84 186.30) scale(0.9516 1)" font-size="6.2" text-anchor="middle" fill="#231f20" stroke="#231f20" stroke-width="0.1" >3</text>
<text transform="translate(104.26 186.30) scale(0.9516 1)" font-size="6.2" text-anchor="middle" fill="#231f20" stroke="#231f20" stroke-width="0.1" >1</text>
<text transform="translate(125.68 186.30) scale(0.9516 1)" font-size="6.2" text-anchor="middle" fill="#231f20" stroke="#231f20" stroke-width="0.1" >0</text>
<text transform="translate(147.10 186.30) scale(0.9516 1)" font-size="6.2" text-anchor="middle" fill="#231f20" stroke="#231f20" stroke-width="0.1" >0</text>
</g>
<polyline points="214.50,474.50 218.50,475.50 221.50,477.50 221.50,483.50 226.50,483.50 226.50,487.50 228.50,490.50 262.50,490.50 262.50,510.50 295.50,510.50" fill="none" stroke="#9ea2cc" stroke-width="1.05" stroke-linejoin="miter"/>
<path d="M237.7,489.1v1.4M247.7,489.1v1.4M270.5,509.1v1.4M285.5,509.1v1.4" stroke="#9ea2cc" stroke-width="0.7" fill="none" opacity="0.7"/>
<polyline points="214.50,474.50 218.50,475.50 222.50,477.50 224.50,479.50 229.50,479.50 229.50,485.50 235.50,485.50 235.50,490.50 313.50,490.50" fill="none" stroke="#3a2d48" stroke-width="1.05" stroke-linejoin="miter"/>
<path d="M241.7,489.1v1.4M256.7,489.1v1.4M271.7,489.1v1.4M281.7,489.1v1.4M296.7,489.1v1.4" stroke="#3a2d48" stroke-width="0.7" fill="none" opacity="0.7"/>
<polyline points="214.50,474.50 218.50,477.50 222.50,477.50 225.50,480.50 226.50,481.50 226.50,485.50 228.50,485.50 232.50,486.50 232.50,488.50 232.50,494.50 234.50,498.50 237.50,498.50 239.50,500.50 242.50,501.50 251.50,501.50 251.50,505.50 317.50,505.50" fill="none" stroke="#c92d84" stroke-width="1.05" stroke-linejoin="miter"/>
<path d="M258.5,504.1v1.4M273.5,504.1v1.4M283.5,504.1v1.4M298.5,504.1v1.4M313.5,504.1v1.4" stroke="#c92d84" stroke-width="0.7" fill="none" opacity="0.7"/>
<g transform="translate(348.6,404.5)">
<text x="6.80" y="15.80" font-size="10.2" text-anchor="start" fill="#111" font-weight="bold" stroke="#111" stroke-width="0.35">I</text>
<text transform="translate(95.10 15.80) scale(0.9516 1)" font-size="8.302" text-anchor="middle" fill="#231f20" stroke="#231f20" stroke-width="0.1" >Older adults (&gt;40 years)</text>
<text transform="translate(25.00 28.60) scale(0.9516 1)" font-size="6.2" text-anchor="start" fill="#231f20" stroke="#231f20" stroke-width="0.1" >Income:</text>
<text transform="translate(71.40 28.60) scale(0.9516 1)" font-size="6.2" text-anchor="middle" fill="#231f20" stroke="#231f20" stroke-width="0.1" >Median OS</text>
<text transform="translate(113.30 28.60) scale(0.9516 1)" font-size="6.2" text-anchor="middle" fill="#231f20" stroke="#231f20" stroke-width="0.1" >HR (95% CI)</text>
<text transform="translate(150.00 28.60) scale(0.9516 1)" font-size="6.2" text-anchor="middle" fill="#231f20" stroke="#231f20" stroke-width="0.1" ><tspan font-style="italic">P</tspan> value</text>
<line x1="24.8" y1="36.40" x2="31.5" y2="36.40" stroke="#3a2d48" stroke-width="0.75" stroke-opacity="0.8"/>
<line x1="28.15" y1="35.20" x2="28.15" y2="36.40" stroke="#3a2d48" stroke-width="0.7" stroke-opacity="0.8"/>
<text transform="translate(34.60 38.10) scale(0.9516 1)" font-size="6.2" text-anchor="start" fill="#3d3550" stroke="#3d3550" stroke-width="0.05" >High:</text>
<text transform="translate(71.40 38.10) scale(0.9516 1)" font-size="6.2" text-anchor="middle" fill="#231f20" stroke="#231f20" stroke-width="0.1" >53 mo</text>
<text transform="translate(113.30 37.20) scale(0.9516 1)" font-size="6.2" text-anchor="middle" fill="#231f20" stroke="#231f20" stroke-width="0.1" >–</text>
<line x1="24.8" y1="46.00" x2="31.5" y2="46.00" stroke="#c92d84" stroke-width="0.75" stroke-opacity="0.8"/>
<line x1="28.15" y1="44.80" x2="28.15" y2="46.00" stroke="#c92d84" stroke-width="0.7" stroke-opacity="0.8"/>
<text transform="translate(34.60 47.70) scale(0.9516 1)" font-size="6.2" text-anchor="start" fill="#e23d9d" stroke="#e23d9d" stroke-width="0.05" >Middle:</text>
<text transform="translate(71.40 47.70) scale(0.9516 1)" font-size="6.2" text-anchor="middle" fill="#231f20" stroke="#231f20" stroke-width="0.1" >38 mo</text>
<text transform="translate(113.30 47.70) scale(0.9516 1)" font-size="6.2" text-anchor="middle" fill="#231f20" stroke="#231f20" stroke-width="0.1" textLength="50.02" lengthAdjust="spacing" >1.54 (0.82 – 2.90)</text>
<text transform="translate(150.00 47.70) scale(0.9516 1)" font-size="6.2" text-anchor="middle" fill="#231f20" stroke="#231f20" stroke-width="0.1" >.17</text>
<line x1="24.8" y1="55.70" x2="31.5" y2="55.70" stroke="#9ea2cc" stroke-width="0.75" stroke-opacity="0.8"/>
<line x1="28.15" y1="54.50" x2="28.15" y2="55.70" stroke="#9ea2cc" stroke-width="0.7" stroke-opacity="0.8"/>
<text transform="translate(34.60 57.40) scale(0.9516 1)" font-size="6.2" text-anchor="start" fill="#9aa4c0" stroke="#9aa4c0" stroke-width="0.05" >Low:</text>
<text transform="translate(71.40 57.40) scale(0.9516 1)" font-size="6.2" text-anchor="middle" fill="#231f20" stroke="#231f20" stroke-width="0.1" >NR</text>
<text transform="translate(113.30 57.40) scale(0.9516 1)" font-size="6.2" text-anchor="middle" fill="#231f20" stroke="#231f20" stroke-width="0.1" textLength="50.02" lengthAdjust="spacing" >1.12 (0.43 – 2.93)</text>
<text transform="translate(150.00 57.40) scale(0.9516 1)" font-size="6.2" text-anchor="middle" fill="#231f20" stroke="#231f20" stroke-width="0.1" >.80</text>
<g stroke="#1e1e1e" stroke-width="1.35" fill="none">
<line x1="40.0" y1="65.39999999999999" x2="40.0" y2="125.89999999999999"/>
<line x1="39.45" y1="125.3" x2="149.29999999999998" y2="125.3"/>
<line x1="37.1" y1="125.30" x2="40.0" y2="125.30"/>
<line x1="40.00" y1="125.3" x2="40.00" y2="128.4"/>
<line x1="37.1" y1="113.76" x2="40.0" y2="113.76"/>
<line x1="61.42" y1="125.3" x2="61.42" y2="128.4"/>
<line x1="37.1" y1="102.22" x2="40.0" y2="102.22"/>
<line x1="82.84" y1="125.3" x2="82.84" y2="128.4"/>
<line x1="37.1" y1="90.68" x2="40.0" y2="90.68"/>
<line x1="104.26" y1="125.3" x2="104.26" y2="128.4"/>
<line x1="37.1" y1="79.14" x2="40.0" y2="79.14"/>
<line x1="125.68" y1="125.3" x2="125.68" y2="128.4"/>
<line x1="37.1" y1="67.60" x2="40.0" y2="67.60"/>
<line x1="147.10" y1="125.3" x2="147.10" y2="128.4"/>
</g>
<text transform="translate(34.20 127.40) scale(0.9516 1)" font-size="6.2" text-anchor="end" fill="#262626" stroke="#262626" stroke-width="0.05" >0</text>
<text transform="translate(40.00 136.70) scale(0.9516 1)" font-size="6.2" text-anchor="middle" fill="#262626" stroke="#262626" stroke-width="0.05" >0</text>
<text transform="translate(34.20 115.86) scale(0.9516 1)" font-size="6.2" text-anchor="end" fill="#262626" stroke="#262626" stroke-width="0.05" >20</text>
<text transform="translate(61.42 136.70) scale(0.9516 1)" font-size="6.2" text-anchor="middle" fill="#262626" stroke="#262626" stroke-width="0.05" >36</text>
<text transform="translate(34.20 104.32) scale(0.9516 1)" font-size="6.2" text-anchor="end" fill="#262626" stroke="#262626" stroke-width="0.05" >40</text>
<text transform="translate(82.84 136.70) scale(0.9516 1)" font-size="6.2" text-anchor="middle" fill="#262626" stroke="#262626" stroke-width="0.05" >72</text>
<text transform="translate(34.20 92.78) scale(0.9516 1)" font-size="6.2" text-anchor="end" fill="#262626" stroke="#262626" stroke-width="0.05" >60</text>
<text transform="translate(104.26 136.70) scale(0.9516 1)" font-size="6.2" text-anchor="middle" fill="#262626" stroke="#262626" stroke-width="0.05" >108</text>
<text transform="translate(34.20 81.24) scale(0.9516 1)" font-size="6.2" text-anchor="end" fill="#262626" stroke="#262626" stroke-width="0.05" >80</text>
<text transform="translate(125.68 136.70) scale(0.9516 1)" font-size="6.2" text-anchor="middle" fill="#262626" stroke="#262626" stroke-width="0.05" >144</text>
<text transform="translate(34.20 69.70) scale(0.9516 1)" font-size="6.2" text-anchor="end" fill="#262626" stroke="#262626" stroke-width="0.05" >100</text>
<text transform="translate(147.10 136.70) scale(0.9516 1)" font-size="6.2" text-anchor="middle" fill="#262626" stroke="#262626" stroke-width="0.05" >180</text>
<text transform="translate(18.8,95.25) rotate(-90)" font-size="8.4" font-weight="bold" text-anchor="middle" fill="#2e2e2e" stroke="#2e2e2e" stroke-width="0.15" textLength="39" lengthAdjust="spacingAndGlyphs">Percent survival</text>
<text x="95" y="148.0" font-size="8.4" font-weight="bold" text-anchor="middle" fill="#2e2e2e" stroke="#2e2e2e" stroke-width="0.15" textLength="61.4" lengthAdjust="spacingAndGlyphs">Overall survival (months)</text>
<text transform="translate(42.00 123.80) scale(0.9516 1)" font-size="6.41" text-anchor="start" fill="#231f20" stroke="#231f20" stroke-width="0.1" ><tspan font-style="italic">P</tspan> = .35</text>
<text transform="translate(6.60 158.20) scale(0.9516 1)" font-size="6.095" text-anchor="start" fill="#231f20" stroke="#231f20" stroke-width="0.1" >Number at risk</text>
<text transform="translate(26.20 167.20) scale(0.9516 1)" font-size="6.2" text-anchor="end" fill="#3d3550" stroke="#3d3550" stroke-width="0.05" >High:</text>
<text transform="translate(40.00 167.20) scale(0.9516 1)" font-size="6.2" text-anchor="middle" fill="#231f20" stroke="#231f20" stroke-width="0.1" >42</text>
<text transform="translate(61.42 167.20) scale(0.9516 1)" font-size="6.2" text-anchor="middle" fill="#231f20" stroke="#231f20" stroke-width="0.1" >12</text>
<text transform="translate(82.84 167.20) scale(0.9516 1)" font-size="6.2" text-anchor="middle" fill="#231f20" stroke="#231f20" stroke-width="0.1" >4</text>
<text transform="translate(104.26 167.20) scale(0.9516 1)" font-size="6.2" text-anchor="middle" fill="#231f20" stroke="#231f20" stroke-width="0.1" >3</text>
<text transform="translate(125.68 167.20) scale(0.9516 1)" font-size="6.2" text-anchor="middle" fill="#231f20" stroke="#231f20" stroke-width="0.1" >1</text>
<text transform="translate(147.10 167.20) scale(0.9516 1)" font-size="6.2" text-anchor="middle" fill="#231f20" stroke="#231f20" stroke-width="0.1" >0</text>
<text transform="translate(26.20 176.80) scale(0.9516 1)" font-size="6.2" text-anchor="end" fill="#e23d9d" stroke="#e23d9d" stroke-width="0.05" >Middle:</text>
<text transform="translate(40.00 176.80) scale(0.9516 1)" font-size="6.2" text-anchor="middle" fill="#231f20" stroke="#231f20" stroke-width="0.1" >67</text>
<text transform="translate(61.42 176.80) scale(0.9516 1)" font-size="6.2" text-anchor="middle" fill="#231f20" stroke="#231f20" stroke-width="0.1" >18</text>
<text transform="translate(82.84 176.80) scale(0.9516 1)" font-size="6.2" text-anchor="middle" fill="#231f20" stroke="#231f20" stroke-width="0.1" >9</text>
<text transform="translate(104.26 176.80) scale(0.9516 1)" font-size="6.2" text-anchor="middle" fill="#231f20" stroke="#231f20" stroke-width="0.1" >5</text>
<text transform="translate(125.68 176.80) scale(0.9516 1)" font-size="6.2" text-anchor="middle" fill="#231f20" stroke="#231f20" stroke-width="0.1" >0</text>
<text transform="translate(147.10 176.80) scale(0.9516 1)" font-size="6.2" text-anchor="middle" fill="#231f20" stroke="#231f20" stroke-width="0.1" >0</text>
<text transform="translate(26.20 186.30) scale(0.9516 1)" font-size="6.2" text-anchor="end" fill="#9aa4c0" stroke="#9aa4c0" stroke-width="0.05" >Low:</text>
<text transform="translate(40.00 186.30) scale(0.9516 1)" font-size="6.2" text-anchor="middle" fill="#231f20" stroke="#231f20" stroke-width="0.1" >18</text>
<text transform="translate(61.42 186.30) scale(0.9516 1)" font-size="6.2" text-anchor="middle" fill="#231f20" stroke="#231f20" stroke-width="0.1" >5</text>
<text transform="translate(82.84 186.30) scale(0.9516 1)" font-size="6.2" text-anchor="middle" fill="#231f20" stroke="#231f20" stroke-width="0.1" >2</text>
<text transform="translate(104.26 186.30) scale(0.9516 1)" font-size="6.2" text-anchor="middle" fill="#231f20" stroke="#231f20" stroke-width="0.1" >1</text>
<text transform="translate(125.68 186.30) scale(0.9516 1)" font-size="6.2" text-anchor="middle" fill="#231f20" stroke="#231f20" stroke-width="0.1" >0</text>
<text transform="translate(147.10 186.30) scale(0.9516 1)" font-size="6.2" text-anchor="middle" fill="#231f20" stroke="#231f20" stroke-width="0.1" >0</text>
</g>
<polyline points="388.50,475.50 392.50,483.50 396.50,490.50 399.50,496.50 402.50,499.50 406.50,500.50 418.50,500.50 463.50,500.50" fill="none" stroke="#9ea2cc" stroke-width="1.05" stroke-linejoin="miter"/>
<path d="M427.6,499.1v1.4M437.6,499.1v1.4M452.6,499.1v1.4" stroke="#9ea2cc" stroke-width="0.7" fill="none" opacity="0.7"/>
<polyline points="388.50,474.50 391.50,476.50 394.50,479.50 396.50,481.50 398.50,482.50 398.50,486.50 403.50,486.50 404.50,486.50 406.50,488.50 407.50,492.50 408.50,494.50 409.50,497.50 410.50,499.50 418.50,499.50 418.50,503.50 429.50,503.50 429.50,509.50 471.50,509.50" fill="none" stroke="#3a2d48" stroke-width="1.05" stroke-linejoin="miter"/>
<path d="M439.6,508.1v1.4M449.6,508.1v1.4M464.6,508.1v1.4" stroke="#3a2d48" stroke-width="0.7" fill="none" opacity="0.7"/>
<polyline points="388.50,475.50 390.50,478.50 392.50,482.50 394.50,487.50 396.50,490.50 398.50,493.50 400.50,495.50 403.50,497.50 406.50,498.50 408.50,499.50 409.50,501.50 410.50,504.50 418.50,505.50 418.50,506.50 429.50,506.50 429.50,509.50 452.50,509.50 452.50,517.50 460.50,517.50 460.50,529.50" fill="none" stroke="#c92d84" stroke-width="1.05" stroke-linejoin="miter"/>
<path d="M439.6,508.1v1.4" stroke="#c92d84" stroke-width="0.7" fill="none" opacity="0.7"/>
</svg>
<div style="position:absolute;left:0;top:0;width:520px;height:1px;background:#626262"></div>
<div style="position:absolute;left:0;top:0;width:1px;height:599px;background:#646464"></div>
<div style="position:absolute;left:519px;top:0;width:1px;height:599px;background:#5a5a5a"></div>
<div style="position:absolute;left:518px;top:0;width:1px;height:599px;background:#d6d6d6"></div>
<div style="position:absolute;left:0;top:598px;width:520px;height:1px;background:#5a5a5a"></div>
<div style="position:absolute;left:0;top:597px;width:520px;height:1px;background:#8a8a8a"></div>
</body></html>
